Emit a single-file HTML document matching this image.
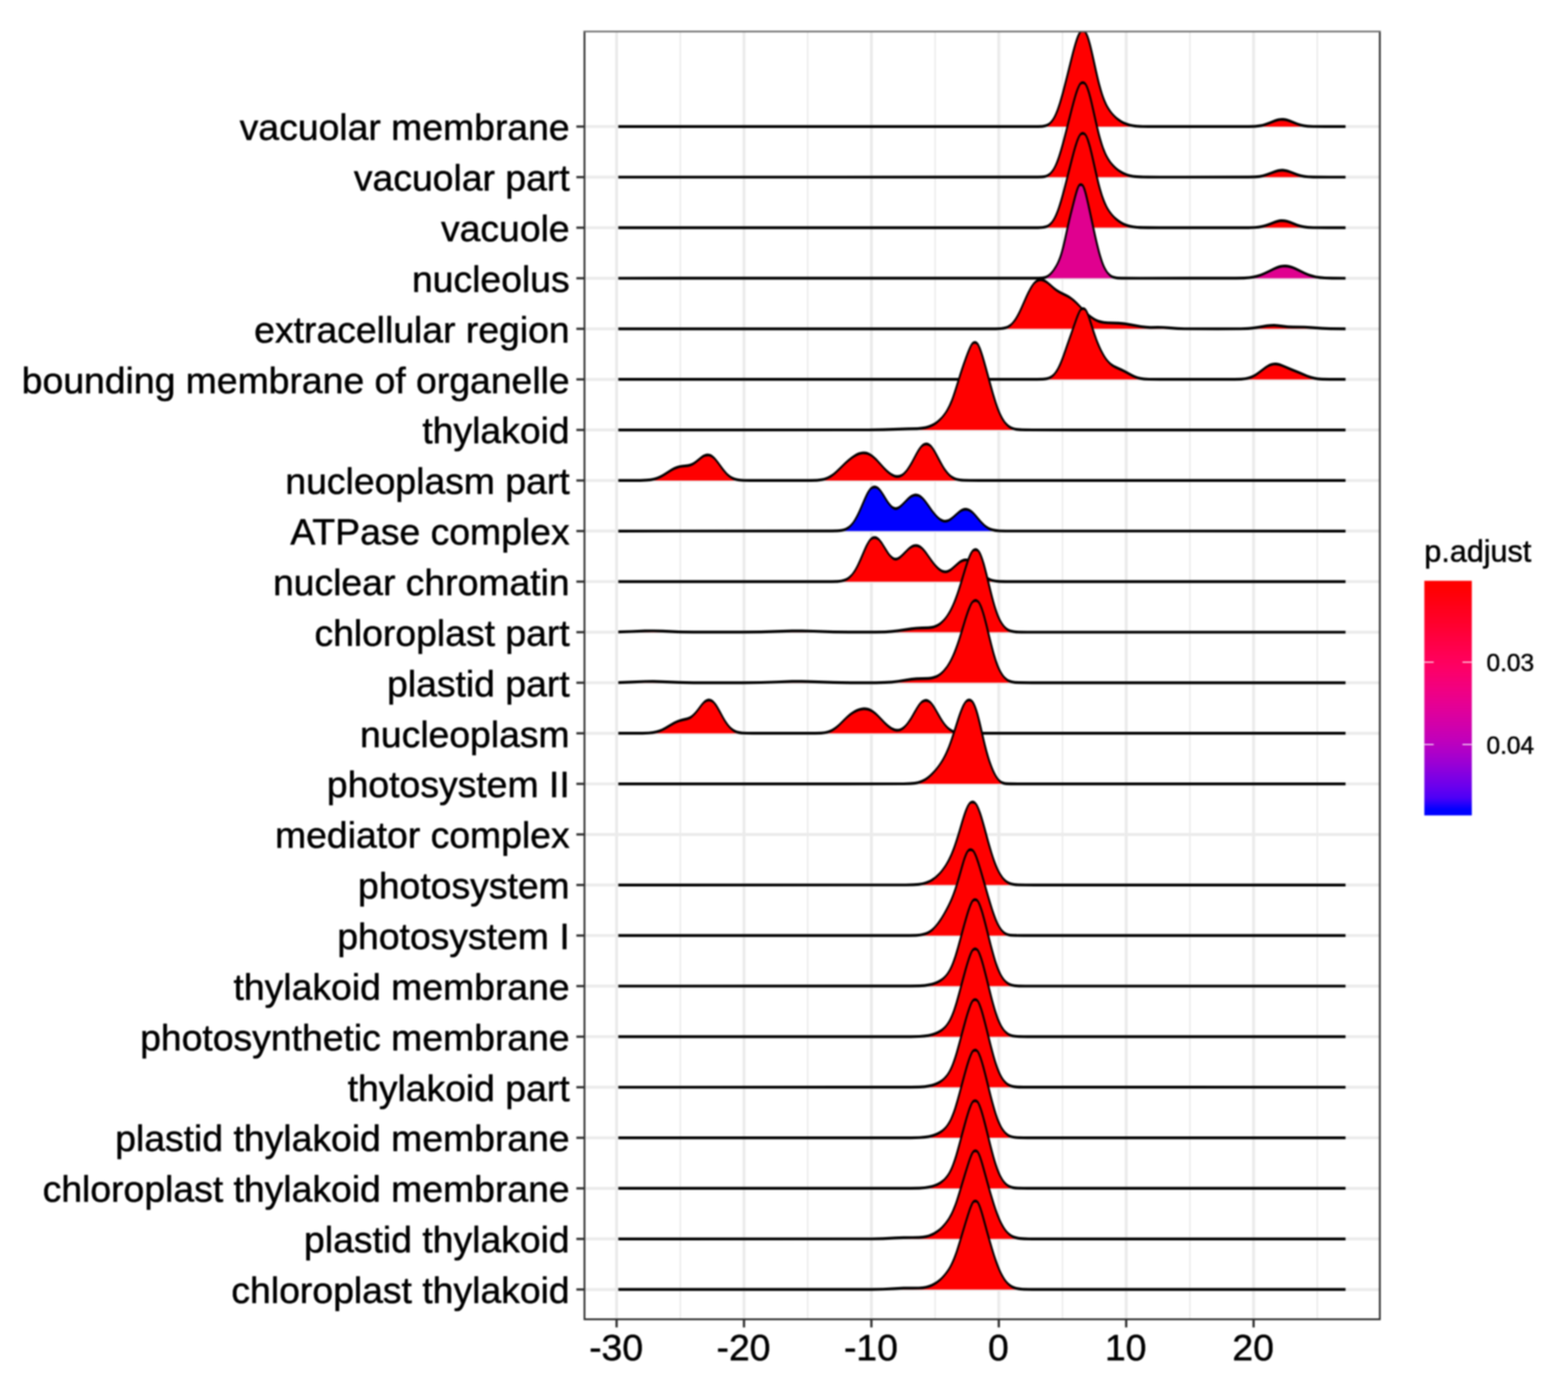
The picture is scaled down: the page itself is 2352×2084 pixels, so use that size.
<!DOCTYPE html>
<html lang="en"><head><meta charset="utf-8"><title>ridgeplot</title>
<style>html,body{margin:0;padding:0;background:#fff}svg{display:block;filter:blur(0.8px)}text{font-family:"Liberation Sans",sans-serif;fill:#000;stroke:#000;stroke-width:0.7px;stroke-linejoin:round}.yl{font-size:56px;text-anchor:end}.xl{font-size:56px;text-anchor:middle}.lt{font-size:45.8px}.ll{font-size:36.67px}</style></head><body>
<svg width="2352" height="2084" viewBox="0 0 2352 2084">
<defs><linearGradient id="g" x1="0" y1="0" x2="0" y2="1">
<stop offset="0.0250" stop-color="#FF0000"/>
<stop offset="0.0750" stop-color="#FF000E"/>
<stop offset="0.1250" stop-color="#FF001D"/>
<stop offset="0.1750" stop-color="#FF002B"/>
<stop offset="0.2250" stop-color="#FF003A"/>
<stop offset="0.2750" stop-color="#FF0049"/>
<stop offset="0.3250" stop-color="#FF0058"/>
<stop offset="0.3750" stop-color="#FD0067"/>
<stop offset="0.4250" stop-color="#F60076"/>
<stop offset="0.4750" stop-color="#EF0085"/>
<stop offset="0.5250" stop-color="#E60093"/>
<stop offset="0.5750" stop-color="#DB00A0"/>
<stop offset="0.6250" stop-color="#CF00AD"/>
<stop offset="0.6750" stop-color="#C200BA"/>
<stop offset="0.7250" stop-color="#B000C7"/>
<stop offset="0.7750" stop-color="#9C00D4"/>
<stop offset="0.8250" stop-color="#8400E1"/>
<stop offset="0.8750" stop-color="#6B00ED"/>
<stop offset="0.9250" stop-color="#4D00F7"/>
<stop offset="0.9750" stop-color="#0000FF"/>
</linearGradient><clipPath id="c"><rect x="875.65" y="46.2" width="1195.2" height="1934.3"/></clipPath></defs>
<rect width="2352" height="2084" fill="#fff"/>
<g><line x1="1020.45" x2="1020.45" y1="47.3" y2="1979.4" stroke="#EBEBEB" stroke-width="2.2"/><line x1="1211.55" x2="1211.55" y1="47.3" y2="1979.4" stroke="#EBEBEB" stroke-width="2.2"/><line x1="1402.65" x2="1402.65" y1="47.3" y2="1979.4" stroke="#EBEBEB" stroke-width="2.2"/><line x1="1593.75" x2="1593.75" y1="47.3" y2="1979.4" stroke="#EBEBEB" stroke-width="2.2"/><line x1="1784.85" x2="1784.85" y1="47.3" y2="1979.4" stroke="#EBEBEB" stroke-width="2.2"/><line x1="1975.95" x2="1975.95" y1="47.3" y2="1979.4" stroke="#EBEBEB" stroke-width="2.2"/><line x1="924.9" x2="924.9" y1="47.3" y2="1979.4" stroke="#EBEBEB" stroke-width="4.4"/><line x1="1116" x2="1116" y1="47.3" y2="1979.4" stroke="#EBEBEB" stroke-width="4.4"/><line x1="1307.1" x2="1307.1" y1="47.3" y2="1979.4" stroke="#EBEBEB" stroke-width="4.4"/><line x1="1498.2" x2="1498.2" y1="47.3" y2="1979.4" stroke="#EBEBEB" stroke-width="4.4"/><line x1="1689.3" x2="1689.3" y1="47.3" y2="1979.4" stroke="#EBEBEB" stroke-width="4.4"/><line x1="1880.4" x2="1880.4" y1="47.3" y2="1979.4" stroke="#EBEBEB" stroke-width="4.4"/><line x1="876.75" x2="2069.75" y1="189.9" y2="189.9" stroke="#EBEBEB" stroke-width="4.4"/><line x1="876.75" x2="2069.75" y1="265.76" y2="265.76" stroke="#EBEBEB" stroke-width="4.4"/><line x1="876.75" x2="2069.75" y1="341.62" y2="341.62" stroke="#EBEBEB" stroke-width="4.4"/><line x1="876.75" x2="2069.75" y1="417.48" y2="417.48" stroke="#EBEBEB" stroke-width="4.4"/><line x1="876.75" x2="2069.75" y1="493.34" y2="493.34" stroke="#EBEBEB" stroke-width="4.4"/><line x1="876.75" x2="2069.75" y1="569.2" y2="569.2" stroke="#EBEBEB" stroke-width="4.4"/><line x1="876.75" x2="2069.75" y1="645.06" y2="645.06" stroke="#EBEBEB" stroke-width="4.4"/><line x1="876.75" x2="2069.75" y1="720.92" y2="720.92" stroke="#EBEBEB" stroke-width="4.4"/><line x1="876.75" x2="2069.75" y1="796.78" y2="796.78" stroke="#EBEBEB" stroke-width="4.4"/><line x1="876.75" x2="2069.75" y1="872.64" y2="872.64" stroke="#EBEBEB" stroke-width="4.4"/><line x1="876.75" x2="2069.75" y1="948.5" y2="948.5" stroke="#EBEBEB" stroke-width="4.4"/><line x1="876.75" x2="2069.75" y1="1024.36" y2="1024.36" stroke="#EBEBEB" stroke-width="4.4"/><line x1="876.75" x2="2069.75" y1="1100.22" y2="1100.22" stroke="#EBEBEB" stroke-width="4.4"/><line x1="876.75" x2="2069.75" y1="1176.08" y2="1176.08" stroke="#EBEBEB" stroke-width="4.4"/><line x1="876.75" x2="2069.75" y1="1251.94" y2="1251.94" stroke="#EBEBEB" stroke-width="4.4"/><line x1="876.75" x2="2069.75" y1="1327.8" y2="1327.8" stroke="#EBEBEB" stroke-width="4.4"/><line x1="876.75" x2="2069.75" y1="1403.66" y2="1403.66" stroke="#EBEBEB" stroke-width="4.4"/><line x1="876.75" x2="2069.75" y1="1479.52" y2="1479.52" stroke="#EBEBEB" stroke-width="4.4"/><line x1="876.75" x2="2069.75" y1="1555.38" y2="1555.38" stroke="#EBEBEB" stroke-width="4.4"/><line x1="876.75" x2="2069.75" y1="1631.24" y2="1631.24" stroke="#EBEBEB" stroke-width="4.4"/><line x1="876.75" x2="2069.75" y1="1707.1" y2="1707.1" stroke="#EBEBEB" stroke-width="4.4"/><line x1="876.75" x2="2069.75" y1="1782.96" y2="1782.96" stroke="#EBEBEB" stroke-width="4.4"/><line x1="876.75" x2="2069.75" y1="1858.82" y2="1858.82" stroke="#EBEBEB" stroke-width="4.4"/><line x1="876.75" x2="2069.75" y1="1934.68" y2="1934.68" stroke="#EBEBEB" stroke-width="4.4"/></g>
<g clip-path="url(#c)"><path d="M927.5,189.9 L927.5,189.9 L1556.9,189.84 L1563.3,189.54 L1567.1,188.97 L1569.7,188.21 L1571.9,187.17 L1573.9,185.79 L1575.9,183.92 L1577.9,181.61 L1579.7,179.1 L1581.3,176.44 L1582.9,173.37 L1584.5,169.84 L1586.1,165.85 L1587.7,161.42 L1589.3,156.58 L1591.1,150.69 L1593.1,143.69 L1595.5,134.79 L1598.5,123.12 L1604.1,100.62 L1608.1,84.64 L1610.5,75.44 L1612.3,68.92 L1613.9,63.53 L1615.3,59.21 L1616.5,55.88 L1617.7,52.93 L1618.9,50.4 L1619.9,48.7 L1620.7,47.68 L1621.9,46.82 L1623.3,46.29 L1624.7,46.23 L1625.9,46.53 L1627.1,47.2 L1627.9,47.92 L1628.9,49.47 L1629.9,51.49 L1630.9,53.88 L1631.9,56.64 L1633.1,60.38 L1634.3,64.57 L1635.7,69.93 L1637.3,76.56 L1639.3,85.37 L1644.1,107.17 L1646.1,115.87 L1647.9,123.26 L1649.5,129.4 L1651.1,135.09 L1652.7,140.3 L1654.3,145.05 L1655.9,149.33 L1657.5,153.18 L1659.3,157.03 L1661.1,160.42 L1663.1,163.77 L1665.5,167.25 L1668.1,170.53 L1671.1,173.8 L1674.3,176.83 L1677.7,179.57 L1681.3,182.02 L1685.1,184.14 L1689.1,185.91 L1693.3,187.29 L1698.1,188.38 L1703.9,189.16 L1711.7,189.65 L1726.5,189.88 L1872.7,189.83 L1882.3,189.52 L1888.5,188.91 L1893.5,188 L1898.3,186.68 L1903.9,184.62 L1912.5,181.18 L1916.7,179.91 L1920.3,179.27 L1923.7,179.11 L1927.1,179.4 L1930.7,180.17 L1935.1,181.62 L1946.1,186 L1951.1,187.56 L1955.9,188.6 L1961.5,189.32 L1969.3,189.75 L1988.3,189.9 L2018.3,189.9 L2018.3,189.9 Z" fill="#FF0000"/>
<path d="M927.5,187.8 L1556.9,187.74 L1563.3,187.44 L1567.1,186.87 L1569.7,186.11 L1571.9,185.07 L1573.9,183.69 L1575.7,182 L1577.3,180.09 L1578.9,177.77 L1580.5,174.99 L1582.1,171.75 L1583.7,168.04 L1585.3,163.89 L1586.9,159.3 L1588.7,153.66 L1590.5,147.59 L1592.7,139.68 L1595.3,129.82 L1598.7,116.4 L1605.9,87.44 L1608.5,77.34 L1610.5,69.98 L1612.1,64.48 L1613.5,60.05 L1614.9,56.05 L1616.1,53.04 L1617.3,50.44 L1618.5,48.29 L1619.7,46.62 L1620.9,45.41 L1622.1,44.62 L1623.3,44.19 L1624.7,44.13 L1625.9,44.43 L1627.1,45.1 L1628.3,46.19 L1629.3,47.47 L1630.3,49.12 L1631.3,51.14 L1632.3,53.53 L1633.3,56.28 L1634.5,60.03 L1635.7,64.21 L1637.1,69.57 L1638.7,76.2 L1640.7,85.01 L1645.5,106.81 L1647.5,115.51 L1649.3,122.9 L1650.9,129.04 L1652.5,134.73 L1654.1,139.95 L1655.7,144.69 L1657.3,148.98 L1658.9,152.83 L1660.7,156.67 L1662.5,160.06 L1664.5,163.37 L1666.7,166.52 L1669.1,169.5 L1671.9,172.49 L1675.1,175.41 L1678.5,178.06 L1682.1,180.41 L1685.9,182.43 L1689.9,184.11 L1694.3,185.46 L1699.3,186.48 L1705.3,187.19 L1713.9,187.63 L1733.7,187.8 L1872.9,187.73 L1882.3,187.42 L1888.5,186.81 L1893.5,185.9 L1898.3,184.58 L1903.9,182.52 L1912.5,179.08 L1916.7,177.81 L1920.3,177.17 L1923.7,177.01 L1927.1,177.3 L1930.7,178.07 L1935.1,179.52 L1946.1,183.9 L1951.1,185.46 L1955.9,186.5 L1961.5,187.22 L1969.3,187.65 L1988.3,187.8 L2018.3,187.8 L2018.3,192 L1988.3,192 L1969.3,191.85 L1961.5,191.42 L1955.9,190.7 L1951.1,189.66 L1946.1,188.1 L1935.1,183.72 L1930.7,182.27 L1927.1,181.5 L1923.7,181.21 L1920.3,181.37 L1916.7,182.01 L1912.5,183.28 L1903.7,186.8 L1898.1,188.84 L1893.3,190.15 L1888.3,191.04 L1882.1,191.63 L1872.5,191.94 L1723.1,191.96 L1710.3,191.7 L1702.9,191.16 L1697.3,190.33 L1692.7,189.22 L1688.5,187.77 L1684.5,185.94 L1680.7,183.74 L1677.1,181.22 L1673.7,178.39 L1670.3,175.1 L1667.3,171.79 L1664.5,168.26 L1662.1,164.79 L1659.9,161.16 L1657.9,157.38 L1656.1,153.54 L1654.5,149.69 L1652.9,145.4 L1651.3,140.66 L1649.7,135.44 L1647.9,129.04 L1646.3,122.9 L1644.7,116.36 L1642.7,107.7 L1639.5,93.2 L1636.7,80.55 L1634.9,72.83 L1633.5,67.22 L1632.3,62.78 L1631.1,58.81 L1630.1,55.85 L1629.1,53.24 L1628.1,50.99 L1627.3,49.51 L1627.1,49.3 L1626.5,48.92 L1625.1,48.39 L1623.7,48.33 L1622.3,48.72 L1621.1,49.45 L1620.9,49.72 L1620.1,51.15 L1619.1,53.28 L1617.9,56.23 L1616.5,60.16 L1615.1,64.53 L1613.5,69.98 L1611.5,77.34 L1608.9,87.44 L1602.5,113.19 L1598.7,128.27 L1596.1,138.2 L1593.9,146.19 L1591.9,153.06 L1590.1,158.79 L1588.5,163.49 L1586.9,167.76 L1585.3,171.58 L1583.7,174.93 L1582.1,177.88 L1580.3,180.71 L1578.3,183.38 L1576.1,185.84 L1573.9,187.89 L1571.9,189.27 L1569.7,190.31 L1567.1,191.07 L1563.3,191.64 L1556.9,191.94 L927.5,192 Z" fill="#000"/>
<path d="M927.5,265.76 L927.5,265.76 L1556.9,265.7 L1563.3,265.4 L1567.1,264.85 L1569.9,264.02 L1572.1,262.96 L1574.1,261.55 L1576.1,259.66 L1578.1,257.33 L1579.9,254.8 L1581.5,252.11 L1583.1,249.03 L1584.7,245.49 L1586.3,241.5 L1587.9,237.08 L1589.7,231.62 L1591.5,225.72 L1593.5,218.73 L1595.9,209.87 L1599.1,197.52 L1607.5,164.22 L1610.1,154.29 L1612.1,147.07 L1613.7,141.7 L1615.1,137.38 L1616.5,133.5 L1617.7,130.59 L1618.9,128.1 L1619.9,126.42 L1620.5,125.62 L1621.7,124.69 L1622.9,124.15 L1624.3,123.96 L1625.7,124.22 L1626.9,124.82 L1627.9,125.66 L1628.9,127.18 L1629.9,129.18 L1630.9,131.54 L1631.9,134.25 L1633.1,137.95 L1634.3,142.08 L1635.7,147.37 L1637.3,153.91 L1639.3,162.61 L1644.1,184.12 L1646.1,192.71 L1647.9,200 L1649.5,206.05 L1651.1,211.67 L1652.7,216.82 L1654.3,221.5 L1655.9,225.72 L1657.5,229.52 L1659.3,233.31 L1661.3,237.02 L1663.3,240.28 L1665.7,243.68 L1668.3,246.87 L1671.3,250.08 L1674.5,253.04 L1677.9,255.72 L1681.5,258.11 L1685.3,260.18 L1689.3,261.9 L1693.7,263.29 L1698.5,264.33 L1704.3,265.07 L1712.3,265.54 L1728.5,265.75 L1872.9,265.69 L1882.5,265.38 L1888.7,264.79 L1893.9,263.86 L1898.9,262.5 L1905.1,260.26 L1912.7,257.38 L1916.9,256.19 L1920.5,255.6 L1923.9,255.47 L1927.5,255.81 L1931.3,256.64 L1936.1,258.23 L1946.1,262.04 L1951.1,263.53 L1956.1,264.56 L1961.9,265.24 L1970.1,265.63 L1994.1,265.76 L2018.3,265.76 L2018.3,265.76 Z" fill="#FF0000"/>
<path d="M927.5,263.66 L1556.9,263.6 L1563.3,263.3 L1567.1,262.75 L1569.9,261.92 L1572.1,260.86 L1574.1,259.45 L1575.9,257.73 L1577.5,255.8 L1579.1,253.45 L1580.7,250.66 L1582.3,247.4 L1583.9,243.69 L1585.5,239.54 L1587.1,234.96 L1588.9,229.35 L1590.9,222.62 L1593.1,214.74 L1595.7,204.94 L1599.5,190.05 L1605.9,164.65 L1608.5,154.68 L1610.5,147.42 L1612.1,141.99 L1613.5,137.62 L1614.9,133.67 L1616.1,130.69 L1617.3,128.13 L1618.5,126.01 L1619.7,124.36 L1620.9,123.16 L1622.1,122.37 L1623.3,121.95 L1624.7,121.89 L1626.1,122.28 L1627.3,123 L1628.5,124.16 L1629.5,125.5 L1630.5,127.19 L1631.5,129.26 L1632.5,131.7 L1633.5,134.48 L1634.7,138.26 L1635.9,142.45 L1637.3,147.81 L1638.9,154.41 L1641.1,164.04 L1645.5,183.77 L1647.5,192.35 L1649.3,199.64 L1650.9,205.7 L1652.5,211.31 L1654.1,216.46 L1655.7,221.14 L1657.3,225.37 L1658.9,229.16 L1660.7,232.96 L1662.5,236.3 L1664.5,239.56 L1666.7,242.67 L1669.1,245.61 L1671.9,248.56 L1675.1,251.44 L1678.7,254.19 L1682.5,256.6 L1686.3,258.55 L1690.3,260.16 L1694.7,261.45 L1699.7,262.42 L1705.9,263.1 L1714.9,263.51 L1738.5,263.66 L1873.1,263.59 L1882.7,263.27 L1888.9,262.66 L1894.1,261.72 L1899.1,260.34 L1905.5,258.01 L1912.7,255.28 L1916.9,254.09 L1920.5,253.5 L1923.9,253.37 L1927.5,253.71 L1931.3,254.54 L1936.1,256.13 L1946.1,259.94 L1951.1,261.43 L1956.1,262.46 L1961.9,263.14 L1970.1,263.53 L1994.1,263.66 L2018.3,263.66 L2018.3,267.86 L1994.1,267.86 L1970.1,267.73 L1961.9,267.34 L1956.1,266.66 L1951.1,265.63 L1946.1,264.14 L1936.1,260.33 L1931.3,258.74 L1927.5,257.91 L1923.9,257.57 L1920.5,257.7 L1916.9,258.29 L1912.7,259.48 L1905.1,262.36 L1898.9,264.6 L1893.9,265.96 L1888.7,266.89 L1882.5,267.48 L1872.7,267.8 L1722.9,267.82 L1710.1,267.55 L1702.7,267.01 L1697.1,266.17 L1692.5,265.06 L1688.3,263.61 L1684.3,261.78 L1680.5,259.59 L1676.9,257.08 L1673.5,254.26 L1670.1,250.98 L1667.1,247.67 L1664.3,244.15 L1661.9,240.68 L1659.7,237.05 L1657.9,233.67 L1656.1,229.87 L1654.5,226.08 L1652.9,221.85 L1651.3,217.17 L1649.7,212.02 L1648.1,206.43 L1646.5,200.42 L1644.9,194.01 L1642.9,185.52 L1640.3,173.95 L1636.9,158.72 L1635.1,151.05 L1633.7,145.46 L1632.5,141.02 L1631.3,137.02 L1630.1,133.48 L1629.1,130.9 L1628.1,128.69 L1627.3,127.23 L1626.5,126.67 L1625.3,126.2 L1623.9,126.07 L1622.5,126.39 L1621.3,127.05 L1620.9,127.44 L1620.1,128.84 L1619.1,130.95 L1617.9,133.86 L1616.5,137.74 L1615.1,142.05 L1613.5,147.43 L1611.7,153.94 L1609.1,163.87 L1603.5,186.08 L1599.3,202.62 L1596.5,213.26 L1594.1,221.93 L1592.1,228.75 L1590.3,234.46 L1588.7,239.14 L1587.1,243.4 L1585.5,247.23 L1583.9,250.6 L1582.3,253.56 L1580.5,256.41 L1578.5,259.09 L1576.3,261.57 L1574.1,263.65 L1572.1,265.06 L1569.9,266.12 L1567.1,266.95 L1563.3,267.5 L1556.9,267.8 L927.5,267.86 Z" fill="#000"/>
<path d="M927.5,341.62 L927.5,341.62 L1556.9,341.56 L1563.3,341.26 L1567.1,340.71 L1569.9,339.88 L1572.1,338.82 L1574.1,337.42 L1576.1,335.53 L1578.1,333.21 L1579.9,330.68 L1581.5,328 L1583.1,324.93 L1584.7,321.4 L1586.3,317.41 L1587.9,313 L1589.7,307.55 L1591.5,301.67 L1593.5,294.69 L1595.9,285.84 L1599.1,273.52 L1607.5,240.3 L1610.1,230.39 L1612.1,223.18 L1613.7,217.82 L1615.1,213.51 L1616.5,209.64 L1617.7,206.74 L1618.9,204.25 L1619.9,202.57 L1620.5,201.78 L1621.7,200.85 L1622.9,200.31 L1624.3,200.12 L1625.7,200.38 L1626.9,200.97 L1627.9,201.81 L1628.9,203.34 L1629.9,205.32 L1630.9,207.68 L1631.9,210.39 L1633.1,214.08 L1634.3,218.2 L1635.7,223.48 L1637.3,230.01 L1639.3,238.69 L1644.1,260.15 L1646.1,268.72 L1647.9,276 L1649.5,282.04 L1651.1,287.64 L1652.7,292.78 L1654.3,297.45 L1655.9,301.67 L1657.5,305.45 L1659.3,309.24 L1661.3,312.94 L1663.3,316.19 L1665.7,319.58 L1668.3,322.77 L1671.3,325.97 L1674.5,328.93 L1677.9,331.6 L1681.5,333.99 L1685.3,336.05 L1689.3,337.77 L1693.7,339.16 L1698.5,340.19 L1704.3,340.93 L1712.3,341.4 L1728.5,341.61 L1872.9,341.55 L1882.5,341.23 L1888.7,340.62 L1893.7,339.71 L1898.5,338.4 L1904.3,336.28 L1912.5,333.06 L1916.7,331.82 L1920.3,331.18 L1923.7,331.03 L1927.1,331.31 L1930.9,332.13 L1935.5,333.64 L1946.1,337.79 L1951.1,339.32 L1956.1,340.38 L1961.9,341.08 L1969.9,341.48 L1991.9,341.62 L2018.3,341.62 L2018.3,341.62 Z" fill="#FF0000"/>
<path d="M927.5,339.52 L1556.9,339.46 L1563.3,339.16 L1567.1,338.61 L1569.9,337.78 L1572.1,336.72 L1574.1,335.32 L1575.9,333.61 L1577.5,331.68 L1579.1,329.34 L1580.7,326.55 L1582.3,323.3 L1583.9,319.6 L1585.5,315.45 L1587.1,310.88 L1588.9,305.28 L1590.9,298.57 L1593.1,290.7 L1595.7,280.92 L1599.5,266.07 L1605.9,240.72 L1608.5,230.78 L1610.5,223.53 L1612.1,218.11 L1613.5,213.75 L1614.9,209.81 L1616.1,206.84 L1617.3,204.28 L1618.5,202.16 L1619.7,200.51 L1620.9,199.32 L1622.1,198.53 L1623.3,198.11 L1624.7,198.05 L1626.1,198.43 L1627.3,199.16 L1628.5,200.32 L1629.5,201.65 L1630.5,203.35 L1631.5,205.41 L1632.5,207.84 L1633.5,210.62 L1634.7,214.39 L1635.9,218.57 L1637.3,223.92 L1638.9,230.5 L1641.1,240.11 L1645.5,259.8 L1647.5,268.37 L1649.3,275.64 L1650.9,281.68 L1652.5,287.29 L1654.1,292.42 L1655.7,297.09 L1657.3,301.31 L1658.9,305.1 L1660.7,308.89 L1662.5,312.23 L1664.5,315.47 L1666.7,318.58 L1669.1,321.51 L1671.9,324.45 L1675.1,327.33 L1678.7,330.07 L1682.5,332.47 L1686.3,334.42 L1690.3,336.02 L1694.7,337.31 L1699.7,338.28 L1705.9,338.96 L1714.9,339.37 L1738.5,339.52 L1873.1,339.45 L1882.5,339.13 L1888.7,338.52 L1893.7,337.61 L1898.5,336.3 L1904.3,334.18 L1912.5,330.96 L1916.7,329.72 L1920.3,329.08 L1923.7,328.93 L1927.1,329.21 L1930.9,330.03 L1935.5,331.54 L1946.1,335.69 L1951.1,337.22 L1956.1,338.28 L1961.9,338.98 L1969.9,339.38 L1991.9,339.52 L2018.3,339.52 L2018.3,343.72 L1991.9,343.72 L1969.9,343.58 L1961.9,343.18 L1956.1,342.48 L1951.1,341.42 L1946.1,339.89 L1935.5,335.74 L1930.9,334.23 L1927.1,333.41 L1923.7,333.13 L1920.3,333.28 L1916.7,333.92 L1912.5,335.16 L1904.3,338.38 L1898.5,340.5 L1893.7,341.81 L1888.5,342.75 L1882.3,343.34 L1872.5,343.66 L1722.9,343.68 L1710.1,343.41 L1702.7,342.87 L1697.1,342.03 L1692.5,340.93 L1688.3,339.48 L1684.3,337.65 L1680.5,335.47 L1676.9,332.96 L1673.5,330.15 L1670.1,326.87 L1667.1,323.57 L1664.3,320.05 L1661.9,316.6 L1659.7,312.97 L1657.9,309.6 L1656.1,305.81 L1654.5,302.02 L1652.9,297.8 L1651.3,293.13 L1649.7,288 L1648.1,282.41 L1646.5,276.42 L1644.9,270.02 L1642.9,261.55 L1640.3,250 L1636.9,234.81 L1635.1,227.15 L1633.7,221.57 L1632.5,217.14 L1631.3,213.16 L1630.1,209.62 L1629.1,207.05 L1628.1,204.84 L1627.3,203.39 L1626.5,202.83 L1625.3,202.36 L1623.9,202.23 L1622.5,202.55 L1621.3,203.21 L1620.9,203.59 L1620.1,204.99 L1619.1,207.09 L1617.9,210 L1616.5,213.87 L1615.1,218.17 L1613.5,223.54 L1611.7,230.03 L1609.1,239.94 L1603.5,262.11 L1599.3,278.61 L1596.5,289.23 L1594.1,297.88 L1592.1,304.69 L1590.3,310.39 L1588.7,315.06 L1587.1,319.31 L1585.5,323.13 L1583.9,326.49 L1582.3,329.44 L1580.5,332.29 L1578.5,334.97 L1576.3,337.45 L1574.1,339.52 L1572.1,340.92 L1569.9,341.98 L1567.1,342.81 L1563.3,343.36 L1556.9,343.66 L927.5,343.72 Z" fill="#000"/>
<path d="M927.5,417.48 L927.5,417.48 L1557.1,417.42 L1562.7,417.13 L1566.1,416.6 L1568.7,415.82 L1570.9,414.77 L1573.1,413.27 L1575.3,411.31 L1577.7,408.73 L1580.1,405.7 L1582.5,402.21 L1584.5,398.89 L1586.3,395.54 L1587.9,392.14 L1589.3,388.76 L1590.5,385.5 L1591.7,381.87 L1592.9,377.84 L1594.1,373.42 L1595.5,367.8 L1597.1,360.87 L1599.9,348.05 L1602.3,337.11 L1604.3,328.43 L1606.5,319.38 L1610.5,303.64 L1612.9,294.48 L1614.3,289.46 L1615.5,285.55 L1616.5,282.68 L1617.5,280.26 L1618.3,278.7 L1618.7,278.09 L1619.7,277.39 L1620.9,277.01 L1622.1,277.06 L1623.1,277.42 L1623.9,277.97 L1624.5,278.84 L1625.3,280.48 L1626.1,282.47 L1627.1,285.4 L1628.1,288.76 L1629.3,293.28 L1630.7,299.04 L1632.5,306.96 L1635.7,321.69 L1640.9,345.81 L1643.5,357.5 L1645.5,366.1 L1647.3,373.41 L1648.9,379.48 L1650.3,384.41 L1651.7,388.95 L1653.1,393.08 L1654.5,396.78 L1655.9,400.06 L1657.3,402.93 L1658.9,405.76 L1660.5,408.14 L1662.3,410.38 L1664.3,412.43 L1666.1,413.88 L1668.1,415.06 L1670.5,416 L1673.7,416.74 L1678.3,417.23 L1687.3,417.46 L1853.5,417.41 L1865.9,417.1 L1873.7,416.52 L1879.9,415.64 L1885.3,414.43 L1890.5,412.81 L1895.9,410.64 L1903.1,407.18 L1911.3,403.14 L1916.1,401.18 L1920.1,399.97 L1923.9,399.28 L1927.5,399.08 L1931.1,399.33 L1934.9,400.07 L1938.9,401.33 L1943.7,403.33 L1957.9,410.29 L1963.3,412.52 L1968.5,414.22 L1973.9,415.49 L1979.9,416.41 L1987.5,417.04 L1999.1,417.39 L2018.3,417.48 L2018.3,417.48 Z" fill="#E0008F"/>
<path d="M927.5,415.38 L1557.1,415.32 L1562.7,415.03 L1566.1,414.5 L1568.7,413.72 L1570.9,412.67 L1573.1,411.17 L1575.1,409.4 L1577.3,407 L1579.5,404.15 L1581.7,400.87 L1583.7,397.46 L1585.5,393.96 L1586.9,390.86 L1588.3,387.36 L1589.5,383.98 L1590.7,380.22 L1591.9,376.06 L1593.1,371.51 L1594.5,365.75 L1596.1,358.72 L1600.7,337.65 L1602.7,328.92 L1604.7,320.64 L1608.1,307.18 L1611.1,295.61 L1612.7,289.8 L1613.9,285.82 L1614.9,282.87 L1615.9,280.35 L1616.7,278.69 L1617.5,277.37 L1618.3,276.36 L1619.3,275.52 L1620.3,275.04 L1621.5,274.89 L1622.7,275.14 L1623.7,275.71 L1624.7,276.67 L1625.5,277.8 L1626.3,279.27 L1627.1,281.08 L1628.1,283.81 L1629.1,287.01 L1630.1,290.61 L1631.3,295.34 L1632.9,302.15 L1635.1,312.07 L1642.3,345.45 L1644.9,357.14 L1646.9,365.74 L1648.7,373.06 L1650.3,379.13 L1651.7,384.06 L1653.1,388.6 L1654.5,392.72 L1655.9,396.43 L1657.3,399.71 L1658.7,402.57 L1660.1,405.04 L1661.7,407.41 L1663.3,409.33 L1665.1,411.03 L1667.1,412.42 L1669.3,413.48 L1672.1,414.33 L1675.9,414.93 L1682.1,415.28 L1710.5,415.38 L1853.9,415.31 L1866.1,414.99 L1873.9,414.4 L1880.1,413.5 L1885.5,412.28 L1890.7,410.64 L1896.1,408.45 L1903.5,404.88 L1911.5,400.95 L1916.1,399.08 L1920.1,397.87 L1923.9,397.18 L1927.5,396.98 L1931.1,397.23 L1934.9,397.97 L1938.9,399.23 L1943.7,401.23 L1957.9,408.19 L1963.3,410.42 L1968.5,412.12 L1973.9,413.39 L1979.9,414.31 L1987.5,414.94 L1999.1,415.29 L2018.3,415.38 L2018.3,419.58 L1998.3,419.48 L1987.1,419.12 L1979.7,418.49 L1973.7,417.55 L1968.3,416.26 L1963.1,414.55 L1957.7,412.29 L1944.3,405.71 L1939.3,403.57 L1935.1,402.23 L1931.3,401.46 L1927.7,401.18 L1924.1,401.36 L1920.3,402.03 L1916.3,403.21 L1911.7,405.06 L1904.1,408.77 L1896.3,412.57 L1890.9,414.77 L1885.7,416.43 L1880.3,417.67 L1874.1,418.58 L1866.3,419.18 L1854.1,419.51 L1719.1,419.58 L1682.5,419.49 L1676.1,419.15 L1672.3,418.58 L1669.5,417.76 L1667.3,416.74 L1665.3,415.39 L1663.1,413.37 L1660.9,410.94 L1658.9,408.3 L1657.3,405.81 L1655.9,403.28 L1654.5,400.42 L1653.1,397.14 L1651.7,393.43 L1650.3,389.31 L1648.9,384.77 L1647.3,379.13 L1645.7,373.06 L1643.9,365.74 L1641.9,357.14 L1639.3,345.45 L1634.1,321.33 L1630.9,306.6 L1629.1,298.68 L1627.7,292.92 L1626.5,288.41 L1625.5,285.13 L1624.5,282.3 L1623.7,280.4 L1623.3,279.64 L1623.1,279.52 L1622.1,279.16 L1620.9,279.11 L1619.7,279.49 L1619.3,279.79 L1618.7,281.06 L1617.7,283.58 L1616.7,286.52 L1615.5,290.51 L1613.9,296.37 L1610.7,308.75 L1607.5,321.45 L1605.5,329.77 L1603.5,338.55 L1599.7,355.99 L1597.9,364.03 L1596.5,369.91 L1595.3,374.58 L1593.9,379.59 L1592.7,383.48 L1591.5,386.99 L1590.1,390.62 L1588.7,393.82 L1587.1,397.06 L1585.3,400.32 L1583.1,403.84 L1580.7,407.24 L1578.1,410.46 L1575.5,413.22 L1573.1,415.37 L1570.9,416.87 L1568.7,417.92 L1566.1,418.7 L1562.7,419.23 L1557.1,419.52 L927.5,419.58 Z" fill="#000"/>
<path d="M927.5,493.34 L927.5,493.34 L1493.5,493.28 L1501.1,492.98 L1505.5,492.45 L1508.7,491.69 L1511.5,490.6 L1513.9,489.22 L1516.1,487.53 L1518.5,485.18 L1520.7,482.61 L1522.9,479.59 L1524.9,476.45 L1527.3,472.17 L1529.7,467.41 L1532.7,460.95 L1539.9,444.7 L1542.7,438.78 L1545.1,434.12 L1547.1,430.65 L1549.1,427.59 L1550.9,425.24 L1552.5,423.56 L1554.5,421.97 L1556.5,420.81 L1558.5,420.09 L1560.7,419.76 L1562.9,419.9 L1565.1,420.48 L1567.5,421.57 L1570.1,423.24 L1573.3,425.8 L1581.1,432.68 L1584.7,435.44 L1588.3,437.71 L1592.9,440.07 L1600.1,443.53 L1604.1,445.84 L1607.9,448.48 L1611.7,451.61 L1615.7,455.36 L1622.9,462.82 L1628.9,468.96 L1633.3,473.04 L1636.9,475.95 L1640.5,478.4 L1643.9,480.27 L1647.5,481.79 L1651.3,482.93 L1655.7,483.76 L1661.3,484.29 L1678.1,484.95 L1686.1,485.71 L1695.3,487.1 L1711.7,489.99 L1719.1,490.89 L1725.9,491.28 L1736.5,491.19 L1744.9,491.23 L1753.3,491.79 L1766.1,492.88 L1776.5,493.25 L1825.9,493.34 L1861.7,493.23 L1872.1,492.85 L1879.9,492.15 L1888.3,490.88 L1899.9,488.89 L1905.7,488.29 L1911.1,488.19 L1917.1,488.57 L1931.9,490.28 L1939.1,490.66 L1956.7,490.75 L1965.9,491.28 L1983.5,492.72 L1995.3,493.19 L2018.3,493.34 L2018.3,493.34 Z" fill="#FF0000"/>
<path d="M927.5,491.24 L1493.5,491.18 L1501.1,490.88 L1505.5,490.35 L1508.7,489.59 L1511.5,488.5 L1513.9,487.12 L1516.1,485.43 L1518.1,483.47 L1520.1,481.09 L1522.1,478.28 L1524.1,475.05 L1526.3,471.05 L1528.7,466.23 L1531.9,459.25 L1538.3,444.79 L1541.1,438.83 L1543.5,434.14 L1545.7,430.26 L1547.7,427.15 L1549.7,424.47 L1551.7,422.23 L1553.7,420.45 L1555.7,419.12 L1557.7,418.23 L1559.7,417.75 L1561.9,417.68 L1564.1,418.06 L1566.3,418.87 L1568.7,420.19 L1571.5,422.21 L1575.7,425.82 L1581.1,430.58 L1584.7,433.34 L1588.3,435.61 L1592.9,437.97 L1600.1,441.43 L1604.1,443.74 L1607.9,446.38 L1611.7,449.51 L1615.9,453.45 L1622.9,460.69 L1629.1,467.05 L1633.3,470.94 L1636.9,473.85 L1640.5,476.3 L1643.9,478.17 L1647.5,479.69 L1651.3,480.83 L1655.7,481.66 L1661.3,482.19 L1678.1,482.85 L1686.1,483.61 L1695.3,485 L1711.7,487.89 L1719.1,488.79 L1725.9,489.18 L1736.5,489.09 L1744.9,489.13 L1753.3,489.69 L1766.1,490.78 L1776.5,491.15 L1825.9,491.24 L1861.7,491.13 L1872.1,490.75 L1879.9,490.05 L1888.3,488.78 L1899.9,486.79 L1905.7,486.19 L1911.1,486.09 L1917.1,486.47 L1931.9,488.18 L1939.1,488.56 L1956.7,488.65 L1965.9,489.18 L1983.5,490.62 L1995.3,491.09 L2018.3,491.24 L2018.3,495.44 L1995.3,495.29 L1983.5,494.82 L1965.9,493.38 L1956.7,492.85 L1939.1,492.76 L1931.9,492.38 L1917.1,490.67 L1911.1,490.29 L1905.7,490.39 L1899.9,490.99 L1888.3,492.98 L1879.9,494.25 L1872.1,494.95 L1861.7,495.33 L1825.9,495.44 L1776.5,495.35 L1766.1,494.98 L1753.3,493.89 L1744.9,493.33 L1736.5,493.29 L1725.9,493.38 L1719.1,492.99 L1711.7,492.09 L1695.7,489.27 L1686.3,487.83 L1678.3,487.06 L1660.5,486.34 L1655.1,485.77 L1650.7,484.88 L1646.9,483.67 L1643.3,482.07 L1639.9,480.12 L1636.3,477.59 L1632.5,474.43 L1627.9,470.08 L1615.7,457.47 L1611.7,453.71 L1607.9,450.58 L1604.1,447.94 L1600.1,445.63 L1592.9,442.17 L1588.3,439.81 L1584.7,437.54 L1581.1,434.78 L1574.9,429.3 L1571.1,426.09 L1568.3,424.14 L1565.9,422.89 L1563.7,422.16 L1561.5,421.86 L1559.3,422.01 L1557.3,422.57 L1555.3,423.55 L1553.3,424.97 L1551.9,426.28 L1550.3,428.31 L1548.5,431.04 L1546.5,434.5 L1544.3,438.73 L1541.5,444.62 L1533.3,463.07 L1530.5,469 L1527.9,474.02 L1525.7,477.82 L1523.5,481.19 L1521.1,484.37 L1518.7,487.1 L1516.1,489.63 L1513.9,491.32 L1511.5,492.7 L1508.7,493.79 L1505.5,494.55 L1501.1,495.08 L1493.5,495.38 L927.5,495.44 Z" fill="#000"/>
<path d="M927.5,569.2 L927.5,569.2 L1555.9,569.14 L1564.3,568.86 L1568.9,568.35 L1572.1,567.63 L1574.7,566.66 L1576.9,565.43 L1578.9,563.9 L1581.1,561.73 L1583.1,559.34 L1585.1,556.47 L1586.9,553.43 L1588.7,549.96 L1590.5,546.04 L1592.5,541.22 L1594.7,535.43 L1597.7,527 L1606.1,502.76 L1614.1,479.99 L1616.1,474.63 L1617.7,470.74 L1619.1,467.76 L1620.1,465.97 L1621.1,464.57 L1622.3,463.66 L1623.5,463.14 L1624.9,462.99 L1626.1,463.21 L1627.3,463.8 L1628.3,464.64 L1629.3,466.16 L1630.3,468.11 L1631.5,470.87 L1632.9,474.57 L1634.5,479.26 L1637.7,489.37 L1640.5,498.14 L1642.7,504.61 L1644.7,510.08 L1646.9,515.62 L1649.1,520.71 L1651.3,525.37 L1653.5,529.61 L1655.9,533.8 L1658.1,537.19 L1660.3,540.18 L1662.7,543 L1665.3,545.59 L1667.7,547.55 L1670.5,549.37 L1674.5,551.39 L1683.5,555.47 L1690.1,558.97 L1697.9,563.22 L1702.5,565.3 L1706.7,566.76 L1711.1,567.82 L1716.3,568.56 L1723.5,569.02 L1739.1,569.19 L1852.1,569.13 L1861.5,568.81 L1867.3,568.23 L1871.9,567.35 L1875.9,566.15 L1879.5,564.62 L1883.1,562.64 L1887.1,559.97 L1897.7,551.88 L1901.3,549.52 L1904.3,547.97 L1907.3,546.86 L1910.1,546.26 L1913.1,546.09 L1916.1,546.38 L1919.5,547.17 L1923.9,548.73 L1937.7,554.56 L1949.5,559.36 L1960.9,564.25 L1966.3,566.16 L1971.3,567.45 L1976.5,568.32 L1983.1,568.88 L1993.9,569.16 L2018.3,569.2 L2018.3,569.2 Z" fill="#FF0000"/>
<path d="M927.5,567.1 L1555.9,567.04 L1564.3,566.76 L1568.9,566.25 L1572.1,565.53 L1574.7,564.56 L1576.9,563.33 L1578.9,561.8 L1580.7,560.02 L1582.5,557.8 L1584.3,555.12 L1586.1,551.97 L1587.9,548.35 L1589.7,544.29 L1591.7,539.33 L1594.1,532.88 L1597.7,522.6 L1604.7,502.4 L1612.7,479.64 L1614.7,474.28 L1616.3,470.38 L1617.7,467.4 L1618.9,465.26 L1620.1,463.54 L1621.3,462.28 L1622.5,461.44 L1623.9,460.95 L1625.3,460.92 L1626.5,461.27 L1627.7,461.99 L1628.9,463.14 L1629.9,464.48 L1630.9,466.16 L1632.1,468.63 L1633.3,471.52 L1634.7,475.35 L1636.5,480.76 L1641.5,496.56 L1643.7,503.11 L1645.7,508.66 L1647.9,514.29 L1650.1,519.46 L1652.3,524.2 L1654.5,528.52 L1656.7,532.42 L1658.9,535.89 L1661.1,538.92 L1663.3,541.51 L1665.5,543.67 L1667.9,545.6 L1670.9,547.49 L1675.1,549.56 L1683.5,553.37 L1690.1,556.87 L1697.9,561.12 L1702.5,563.2 L1706.7,564.66 L1711.1,565.72 L1716.3,566.46 L1723.5,566.92 L1739.1,567.09 L1852.1,567.03 L1861.5,566.71 L1867.3,566.13 L1871.9,565.25 L1875.9,564.05 L1879.5,562.52 L1883.1,560.54 L1887.1,557.87 L1897.7,549.78 L1901.3,547.42 L1904.3,545.87 L1907.3,544.76 L1910.1,544.16 L1913.1,543.99 L1916.1,544.28 L1919.5,545.07 L1923.9,546.63 L1937.7,552.46 L1949.5,557.26 L1960.9,562.15 L1966.3,564.06 L1971.3,565.35 L1976.5,566.22 L1983.1,566.78 L1993.9,567.06 L2018.3,567.1 L2018.3,571.3 L1993.9,571.26 L1983.1,570.98 L1976.5,570.42 L1971.3,569.55 L1966.3,568.26 L1960.9,566.35 L1949.5,561.46 L1937.7,556.66 L1923.9,550.83 L1919.5,549.27 L1916.1,548.48 L1913.1,548.19 L1910.1,548.36 L1907.3,548.96 L1904.3,550.07 L1901.3,551.62 L1897.7,553.98 L1887.1,562.07 L1883.1,564.74 L1879.5,566.72 L1875.9,568.25 L1871.9,569.45 L1867.3,570.33 L1861.5,570.91 L1852.1,571.23 L1739.7,571.29 L1723.7,571.12 L1716.5,570.68 L1711.3,569.96 L1706.9,568.92 L1702.7,567.48 L1698.1,565.42 L1690.9,561.52 L1683.9,557.76 L1672.7,552.64 L1669.3,550.74 L1666.7,548.89 L1664.1,546.56 L1661.3,543.61 L1658.7,540.41 L1656.3,537.02 L1654.1,533.52 L1651.9,529.61 L1649.5,524.91 L1647.3,520.17 L1645.1,515 L1642.9,509.37 L1640.9,503.82 L1638.7,497.27 L1635.5,487.17 L1632.9,479.01 L1631.3,474.37 L1629.9,470.74 L1628.7,468.05 L1627.7,466.22 L1627.3,465.9 L1626.1,465.31 L1624.9,465.09 L1623.5,465.24 L1622.3,465.76 L1621.5,466.37 L1620.5,468.11 L1619.1,471.09 L1617.5,474.99 L1615.5,480.35 L1607.9,501.97 L1601.1,521.57 L1597.1,533.03 L1594.7,539.52 L1592.7,544.52 L1590.9,548.63 L1589.1,552.3 L1587.3,555.56 L1585.5,558.4 L1583.5,561.11 L1581.3,563.66 L1578.9,566 L1576.9,567.53 L1574.7,568.76 L1572.1,569.73 L1568.9,570.45 L1564.3,570.96 L1555.9,571.24 L927.5,571.3 Z" fill="#000"/>
<path d="M927.5,645.06 L927.5,645.06 L1302.5,644.99 L1325.1,644.64 L1362.1,643.46 L1376.1,643.03 L1382.9,642.44 L1388.1,641.57 L1392.5,640.4 L1396.3,638.97 L1399.9,637.18 L1403.3,635.06 L1406.5,632.63 L1409.7,629.74 L1412.7,626.62 L1415.5,623.28 L1417.9,620.03 L1420.1,616.66 L1422.3,612.82 L1424.1,609.3 L1425.9,605.38 L1427.7,601.03 L1429.5,596.25 L1431.5,590.49 L1433.9,583.06 L1440.3,562.37 L1443.1,553.75 L1445.9,545.58 L1449.5,535.59 L1452.3,528.17 L1454.3,523.27 L1455.9,519.76 L1457.1,517.5 L1458.1,515.96 L1458.7,515.26 L1459.9,514.39 L1461.1,513.89 L1462.5,513.74 L1463.9,514.03 L1465.1,514.66 L1465.9,515.31 L1466.7,516.41 L1467.7,518.18 L1468.9,520.75 L1470.1,523.72 L1471.5,527.62 L1473.1,532.52 L1475.1,539.12 L1477.7,548.22 L1481.7,562.8 L1486.9,581.9 L1489.5,591.09 L1491.7,598.47 L1493.7,604.76 L1495.5,610.01 L1497.3,614.85 L1499.1,619.23 L1500.9,623.16 L1502.7,626.64 L1504.5,629.71 L1506.5,632.65 L1508.7,635.39 L1510.9,637.69 L1513.1,639.59 L1515.5,641.17 L1518.1,642.42 L1521.3,643.46 L1525.3,644.23 L1530.9,644.75 L1541.1,645.02 L2018.3,645.06 L2018.3,645.06 Z" fill="#FF0000"/>
<path d="M927.5,642.96 L1302.5,642.89 L1325.1,642.54 L1362.1,641.36 L1376.1,640.93 L1382.9,640.34 L1388.1,639.47 L1392.5,638.3 L1396.3,636.87 L1399.9,635.08 L1403.3,632.96 L1406.5,630.53 L1409.5,627.83 L1412.3,624.9 L1414.9,621.77 L1417.3,618.44 L1419.5,614.95 L1421.5,611.34 L1423.3,607.69 L1425.1,603.62 L1426.9,599.13 L1428.7,594.21 L1430.7,588.32 L1433.3,580.14 L1438.7,562.65 L1441.5,553.99 L1444.3,545.8 L1447.9,535.77 L1450.9,527.82 L1452.9,522.91 L1454.5,519.41 L1455.9,516.79 L1457.1,514.96 L1458.3,513.54 L1459.5,512.53 L1460.7,511.92 L1462.1,511.64 L1463.5,511.8 L1464.7,512.31 L1465.9,513.21 L1467.1,514.55 L1468.3,516.35 L1469.5,518.63 L1470.7,521.35 L1472.1,524.99 L1473.5,529.05 L1475.3,534.75 L1477.5,542.21 L1480.5,552.91 L1488.3,581.55 L1490.9,590.74 L1493.1,598.12 L1495.1,604.4 L1496.9,609.66 L1498.7,614.49 L1500.5,618.88 L1502.3,622.81 L1504.1,626.28 L1505.9,629.31 L1507.7,631.92 L1509.7,634.35 L1511.7,636.34 L1513.9,638.07 L1516.3,639.5 L1519.1,640.7 L1522.5,641.64 L1526.9,642.33 L1533.5,642.77 L1548.7,642.95 L2018.3,642.96 L2018.3,647.16 L1610.7,647.16 L1538.1,647.08 L1529.5,646.76 L1524.3,646.18 L1520.5,645.34 L1517.5,644.27 L1514.9,642.92 L1512.7,641.38 L1510.5,639.41 L1507.9,636.66 L1505.5,633.65 L1503.5,630.74 L1501.5,627.38 L1499.5,623.52 L1497.7,619.59 L1495.9,615.2 L1494.1,610.37 L1492.3,605.11 L1490.3,598.83 L1488.1,591.45 L1485.3,581.55 L1477.7,553.64 L1474.7,542.92 L1472.5,535.46 L1470.7,529.76 L1469.3,525.7 L1467.9,522.05 L1466.7,519.34 L1465.7,517.45 L1465.3,516.91 L1464.7,516.51 L1463.5,516 L1462.1,515.84 L1460.7,516.12 L1459.5,516.73 L1458.9,517.25 L1458.5,517.89 L1457.3,520.12 L1455.9,523.16 L1454.1,527.51 L1451.5,534.32 L1447.9,544.24 L1444.9,552.91 L1442.1,561.47 L1438.5,573.05 L1434.7,585.31 L1432.5,592.03 L1430.5,597.7 L1428.7,602.39 L1426.9,606.64 L1425.1,610.48 L1423.1,614.3 L1420.9,618.02 L1418.5,621.61 L1415.9,625.05 L1412.9,628.56 L1409.7,631.85 L1406.5,634.73 L1403.3,637.16 L1399.9,639.28 L1396.3,641.07 L1392.5,642.5 L1388.1,643.67 L1382.9,644.54 L1376.1,645.13 L1362.1,645.56 L1325.1,646.74 L1302.5,647.09 L927.5,647.16 Z" fill="#000"/>
<path d="M927.5,720.92 L927.5,720.92 L960.5,720.81 L969.7,720.44 L975.7,719.81 L980.7,718.85 L985.1,717.56 L989.3,715.86 L993.7,713.59 L999.3,710.15 L1007.1,705.18 L1011.3,702.9 L1015.1,701.3 L1018.7,700.23 L1022.9,699.48 L1031.7,698.56 L1034.9,697.85 L1037.7,696.8 L1040.5,695.3 L1043.7,693.07 L1051.7,686.6 L1054.5,684.72 L1056.9,683.52 L1059.1,682.83 L1061.3,682.57 L1063.5,682.77 L1065.7,683.43 L1067.7,684.46 L1069.9,686.04 L1071.9,687.9 L1074.3,690.65 L1077.7,695.13 L1083.7,703.36 L1086.9,707.37 L1089.9,710.69 L1092.7,713.35 L1095.3,715.38 L1098.1,717.08 L1101.1,718.42 L1104.5,719.44 L1108.7,720.19 L1114.5,720.67 L1125.9,720.9 L1216.5,720.85 L1225.7,720.53 L1231.3,719.95 L1235.7,719.08 L1239.5,717.9 L1242.9,716.4 L1246.3,714.44 L1249.7,712.03 L1253.5,708.85 L1258.7,703.94 L1267.9,694.9 L1272.7,690.61 L1277.1,687.12 L1281.1,684.39 L1284.7,682.36 L1288.1,680.88 L1291.3,679.93 L1294.3,679.5 L1297.1,679.54 L1299.9,680.01 L1302.7,680.95 L1305.5,682.36 L1308.3,684.22 L1311.3,686.67 L1314.5,689.73 L1319.3,694.9 L1326.1,702.38 L1330.1,706.38 L1333.5,709.36 L1336.5,711.56 L1339.3,713.17 L1341.9,714.24 L1344.3,714.81 L1346.7,714.94 L1348.9,714.62 L1351.1,713.86 L1353.1,712.75 L1355.1,711.23 L1357.5,708.93 L1359.9,706.17 L1362.1,703.23 L1364.5,699.59 L1367.1,695.19 L1370.9,688.21 L1375.5,679.63 L1377.9,675.53 L1379.9,672.5 L1381.5,670.44 L1382.9,669 L1384.7,667.64 L1386.5,666.73 L1388.3,666.25 L1390.1,666.21 L1391.9,666.59 L1393.7,667.41 L1395.5,668.67 L1396.9,670 L1398.5,671.98 L1400.5,674.93 L1402.9,678.98 L1406.5,685.67 L1411.3,694.7 L1414.1,699.6 L1416.5,703.41 L1418.9,706.8 L1421.3,709.76 L1423.9,712.51 L1426.3,714.64 L1428.7,716.33 L1431.3,717.72 L1434.3,718.87 L1437.9,719.76 L1442.7,720.41 L1450.1,720.8 L1473.5,720.92 L2018.3,720.92 L2018.3,720.92 Z" fill="#FF0000"/>
<path d="M927.5,718.82 L960.5,718.71 L969.7,718.34 L975.7,717.71 L980.7,716.75 L985.1,715.46 L989.3,713.76 L993.7,711.49 L999.3,708.05 L1007.1,703.08 L1011.3,700.8 L1015.1,699.2 L1018.7,698.13 L1022.9,697.38 L1031.7,696.46 L1034.9,695.75 L1037.7,694.7 L1040.5,693.2 L1043.7,690.97 L1051.7,684.5 L1054.5,682.62 L1056.9,681.42 L1059.1,680.73 L1061.3,680.47 L1063.5,680.67 L1065.7,681.33 L1067.7,682.36 L1069.9,683.94 L1072.1,685.99 L1074.5,688.66 L1077.5,692.49 L1084.9,702.62 L1087.9,706.35 L1090.7,709.38 L1093.3,711.75 L1095.9,713.68 L1098.7,715.29 L1101.7,716.53 L1105.3,717.52 L1109.7,718.21 L1116.1,718.64 L1130.9,718.81 L1216.7,718.75 L1225.7,718.43 L1231.3,717.85 L1235.7,716.98 L1239.5,715.8 L1242.9,714.3 L1246.3,712.34 L1249.7,709.93 L1253.5,706.75 L1258.5,702.03 L1267.7,692.99 L1272.5,688.68 L1276.9,685.17 L1280.9,682.42 L1284.5,680.36 L1287.9,678.85 L1291.1,677.88 L1294.1,677.42 L1296.9,677.42 L1299.7,677.86 L1302.5,678.77 L1305.3,680.14 L1308.1,681.97 L1311.1,684.39 L1314.5,687.62 L1319.3,692.75 L1326.5,700.67 L1330.3,704.47 L1333.5,707.26 L1336.5,709.46 L1339.3,711.07 L1341.9,712.14 L1344.3,712.71 L1346.7,712.84 L1348.9,712.52 L1351.1,711.76 L1353.1,710.65 L1355.1,709.13 L1357.3,707 L1359.5,704.4 L1361.7,701.35 L1364.1,697.57 L1366.9,692.68 L1374.1,679.27 L1376.7,674.82 L1378.7,671.78 L1380.7,669.18 L1382.5,667.27 L1384.3,665.8 L1386.1,664.79 L1387.9,664.22 L1389.7,664.08 L1391.5,664.37 L1393.3,665.09 L1395.1,666.25 L1396.9,667.87 L1398.7,669.93 L1400.7,672.68 L1402.9,676.19 L1405.7,681.17 L1412.5,693.98 L1415.3,698.88 L1417.7,702.69 L1420.1,706.06 L1422.3,708.72 L1424.7,711.17 L1427.1,713.15 L1429.7,714.81 L1432.5,716.14 L1435.7,717.17 L1439.7,717.96 L1445.1,718.49 L1454.7,718.77 L2018.3,718.82 L2018.3,723.02 L1468.5,723.02 L1449.3,722.87 L1442.3,722.47 L1437.7,721.83 L1434.1,720.91 L1431.1,719.73 L1428.5,718.3 L1426.1,716.58 L1423.5,714.23 L1420.7,711.25 L1418.1,708.06 L1415.5,704.42 L1412.9,700.31 L1410.1,695.44 L1402.3,680.8 L1399.7,676.29 L1397.7,673.25 L1396.3,671.5 L1394.9,670.3 L1393.1,669.18 L1391.3,668.51 L1389.5,668.28 L1387.7,668.46 L1385.9,669.08 L1384.1,670.14 L1382.5,671.48 L1381.1,673.23 L1379.1,676.25 L1376.7,680.37 L1371.9,689.32 L1368.3,695.92 L1365.5,700.62 L1362.9,704.52 L1360.5,707.67 L1357.9,710.64 L1355.3,713.16 L1353.3,714.71 L1351.3,715.86 L1349.1,716.67 L1346.9,717.03 L1344.5,716.94 L1342.1,716.4 L1339.5,715.36 L1336.7,713.79 L1333.7,711.62 L1330.3,708.67 L1326.1,704.51 L1319.9,697.74 L1314.5,691.85 L1311.3,688.77 L1308.3,686.32 L1305.5,684.46 L1302.7,683.05 L1299.9,682.11 L1297.1,681.64 L1294.3,681.6 L1291.3,682.03 L1288.1,682.98 L1284.7,684.46 L1281.1,686.49 L1277.1,689.22 L1272.7,692.71 L1267.9,697.01 L1258.5,706.24 L1253.3,711.13 L1249.5,714.28 L1246.1,716.67 L1242.7,718.6 L1239.3,720.07 L1235.5,721.23 L1231.1,722.08 L1225.5,722.64 L1216.3,722.95 L1125.3,723 L1114.3,722.76 L1108.5,722.26 L1104.3,721.49 L1100.9,720.44 L1097.9,719.08 L1095.1,717.34 L1092.5,715.27 L1089.5,712.4 L1086.3,708.87 L1082.9,704.63 L1077.7,697.51 L1073.9,692.41 L1071.7,689.82 L1069.9,688.14 L1067.7,686.56 L1065.7,685.53 L1063.5,684.87 L1061.3,684.67 L1059.1,684.93 L1056.9,685.62 L1054.5,686.82 L1051.7,688.7 L1043.7,695.17 L1040.5,697.4 L1037.7,698.9 L1034.9,699.95 L1031.7,700.66 L1022.9,701.58 L1018.7,702.33 L1015.1,703.4 L1011.3,705 L1007.1,707.28 L999.3,712.25 L993.7,715.69 L989.3,717.96 L985.1,719.66 L980.7,720.95 L975.7,721.91 L969.7,722.54 L960.5,722.91 L927.5,723.02 Z" fill="#000"/>
<path d="M927.5,796.78 L927.5,796.78 L1247.7,796.72 L1256.5,796.43 L1261.5,795.9 L1265.3,795.1 L1268.3,794.05 L1270.9,792.72 L1273.3,791.05 L1275.5,789.09 L1277.9,786.5 L1280.1,783.7 L1282.3,780.45 L1284.3,777.05 L1286.5,772.9 L1288.9,767.89 L1291.9,761.11 L1297.1,748.98 L1299.5,743.75 L1301.5,739.81 L1303.1,737.06 L1304.5,735 L1305.7,733.55 L1307.3,732.2 L1308.9,731.28 L1310.5,730.76 L1312.3,730.63 L1314.1,730.96 L1315.9,731.75 L1317.7,733.01 L1319.1,734.35 L1320.9,736.57 L1323.1,739.78 L1330.1,751.04 L1332.7,754.79 L1334.9,757.54 L1337.1,759.86 L1338.9,761.38 L1340.5,762.34 L1342.1,762.91 L1343.7,763.05 L1345.5,762.74 L1347.5,761.89 L1349.7,760.46 L1352.3,758.28 L1356.1,754.54 L1361.5,749.02 L1364.3,746.56 L1366.7,744.85 L1368.9,743.67 L1371.1,742.93 L1373.3,742.62 L1375.5,742.76 L1377.7,743.37 L1379.9,744.45 L1382.1,745.99 L1384.1,747.79 L1386.3,750.22 L1389.1,753.81 L1398.1,766.45 L1401.5,770.81 L1404.5,774.23 L1407.3,776.98 L1409.7,778.94 L1412.1,780.46 L1414.3,781.41 L1416.5,781.93 L1418.7,781.99 L1420.9,781.57 L1423.1,780.72 L1425.5,779.34 L1428.3,777.26 L1432.5,773.56 L1437.3,769.25 L1440.1,767.11 L1442.5,765.67 L1444.9,764.67 L1447.1,764.18 L1449.3,764.12 L1451.5,764.5 L1453.7,765.32 L1455.9,766.57 L1458.3,768.41 L1460.7,770.68 L1464.1,774.48 L1470.7,782.25 L1474.1,785.87 L1477.1,788.66 L1479.9,790.83 L1482.7,792.56 L1485.7,793.96 L1489.1,795.07 L1493.1,795.88 L1498.5,796.43 L1507.7,796.73 L2018.3,796.78 L2018.3,796.78 Z" fill="#0000FF"/>
<path d="M927.5,794.68 L1247.7,794.62 L1256.5,794.33 L1261.5,793.8 L1265.3,793 L1268.3,791.95 L1270.9,790.62 L1273.3,788.95 L1275.5,786.98 L1277.5,784.77 L1279.5,782.14 L1281.5,779.09 L1283.5,775.61 L1285.7,771.34 L1288.1,766.22 L1291.5,758.41 L1295.9,748.17 L1298.3,742.98 L1300.3,739.09 L1302.1,736.03 L1303.7,733.73 L1305.3,731.85 L1306.9,730.4 L1308.5,729.38 L1310.1,728.76 L1311.9,728.52 L1313.7,728.74 L1315.5,729.43 L1317.3,730.59 L1319.1,732.22 L1320.9,734.27 L1323.1,737.26 L1325.9,741.6 L1331.1,750.01 L1333.5,753.52 L1335.5,756.05 L1337.3,757.94 L1339.1,759.42 L1340.7,760.34 L1342.3,760.85 L1343.9,760.94 L1345.7,760.58 L1347.7,759.68 L1349.9,758.21 L1352.5,756 L1356.5,752 L1361.3,747.11 L1364.1,744.62 L1366.5,742.87 L1368.7,741.66 L1370.9,740.88 L1373.1,740.53 L1375.3,740.63 L1377.5,741.2 L1379.7,742.23 L1381.9,743.73 L1384.1,745.68 L1386.5,748.26 L1389.3,751.74 L1393.5,757.56 L1399.1,765.44 L1402.3,769.55 L1405.1,772.73 L1407.7,775.24 L1410.1,777.13 L1412.5,778.56 L1414.7,779.44 L1416.9,779.88 L1419.1,779.84 L1421.3,779.35 L1423.5,778.42 L1426.1,776.84 L1429.1,774.5 L1437.3,767.15 L1440.1,765.01 L1442.5,763.57 L1444.9,762.57 L1447.1,762.08 L1449.3,762.02 L1451.5,762.4 L1453.7,763.22 L1455.9,764.47 L1458.3,766.31 L1460.9,768.77 L1464.3,772.52 L1471.5,780.98 L1474.7,784.35 L1477.5,786.89 L1480.3,789 L1483.1,790.67 L1486.1,792.02 L1489.5,793.07 L1493.7,793.86 L1499.3,794.38 L1509.5,794.64 L2018.3,794.68 L2018.3,798.88 L1507.3,798.82 L1498.3,798.52 L1492.9,797.95 L1488.9,797.11 L1485.5,795.98 L1482.5,794.55 L1479.7,792.79 L1476.9,790.59 L1473.7,787.58 L1470.1,783.74 L1463.9,776.45 L1460.5,772.6 L1458.3,770.51 L1455.9,768.67 L1453.7,767.42 L1451.5,766.6 L1449.3,766.22 L1447.1,766.28 L1444.9,766.77 L1442.5,767.77 L1440.1,769.21 L1437.1,771.52 L1431.3,776.76 L1427.7,779.85 L1424.9,781.83 L1422.5,783.09 L1420.3,783.83 L1418.1,784.12 L1415.9,783.94 L1413.7,783.3 L1411.5,782.22 L1409.1,780.59 L1406.5,778.34 L1403.5,775.29 L1400.3,771.58 L1396.9,767.18 L1389.5,756.74 L1386.3,752.46 L1384.1,749.91 L1382.3,748.26 L1380.1,746.67 L1377.9,745.55 L1375.7,744.9 L1373.5,744.71 L1371.3,744.98 L1369.1,745.69 L1366.9,746.82 L1364.5,748.5 L1361.7,750.93 L1355.7,757.07 L1351.9,760.74 L1349.3,762.85 L1347.1,764.19 L1345.3,764.9 L1343.5,765.16 L1341.9,764.96 L1340.3,764.34 L1338.5,763.18 L1336.3,761.18 L1333.9,758.57 L1331.5,755.52 L1328.9,751.75 L1321.9,740.5 L1319.7,737.31 L1318.3,735.64 L1316.7,734.35 L1314.9,733.35 L1313.1,732.82 L1311.3,732.75 L1309.5,733.14 L1307.9,733.91 L1306.3,735.09 L1305.7,735.74 L1304.5,737.46 L1302.9,740.19 L1301.1,743.69 L1298.7,748.88 L1292.3,763.77 L1289.5,769.97 L1287.3,774.43 L1285.1,778.5 L1282.9,782.09 L1280.7,785.25 L1278.3,788.23 L1275.7,791 L1273.3,793.15 L1270.9,794.82 L1268.3,796.15 L1265.3,797.2 L1261.5,798 L1256.5,798.53 L1247.7,798.82 L927.5,798.88 Z" fill="#000"/>
<path d="M927.5,872.64 L927.5,872.64 L1247.7,872.58 L1256.5,872.29 L1261.5,871.76 L1265.3,870.96 L1268.3,869.91 L1270.9,868.58 L1273.3,866.91 L1275.5,864.95 L1277.9,862.36 L1280.1,859.56 L1282.3,856.31 L1284.3,852.91 L1286.5,848.76 L1288.9,843.75 L1291.9,836.97 L1297.1,824.84 L1299.5,819.61 L1301.5,815.67 L1303.1,812.92 L1304.5,810.86 L1305.7,809.41 L1307.3,808.06 L1308.9,807.14 L1310.5,806.62 L1312.3,806.49 L1314.1,806.82 L1315.9,807.61 L1317.7,808.87 L1319.1,810.21 L1320.9,812.43 L1323.1,815.64 L1330.1,826.9 L1332.7,830.65 L1334.9,833.4 L1337.1,835.72 L1338.9,837.24 L1340.5,838.2 L1342.1,838.77 L1343.7,838.91 L1345.5,838.6 L1347.5,837.75 L1349.7,836.32 L1352.3,834.14 L1356.1,830.4 L1361.5,824.88 L1364.3,822.42 L1366.7,820.71 L1368.9,819.53 L1371.1,818.79 L1373.3,818.48 L1375.5,818.62 L1377.7,819.23 L1379.9,820.31 L1382.1,821.85 L1384.1,823.65 L1386.3,826.08 L1389.1,829.67 L1398.1,842.31 L1401.5,846.67 L1404.5,850.09 L1407.3,852.84 L1409.7,854.8 L1412.1,856.32 L1414.3,857.27 L1416.5,857.79 L1418.7,857.85 L1420.9,857.43 L1423.1,856.58 L1425.5,855.2 L1428.3,853.12 L1432.5,849.42 L1437.3,845.11 L1440.1,842.97 L1442.5,841.53 L1444.9,840.53 L1447.1,840.04 L1449.3,839.98 L1451.5,840.36 L1453.7,841.18 L1455.9,842.43 L1458.3,844.27 L1460.7,846.54 L1464.1,850.34 L1470.7,858.11 L1474.1,861.73 L1477.1,864.52 L1479.9,866.69 L1482.7,868.42 L1485.7,869.82 L1489.1,870.93 L1493.1,871.74 L1498.5,872.29 L1507.7,872.59 L2018.3,872.64 L2018.3,872.64 Z" fill="#FF0000"/>
<path d="M927.5,870.54 L1247.7,870.48 L1256.5,870.19 L1261.5,869.66 L1265.3,868.86 L1268.3,867.81 L1270.9,866.48 L1273.3,864.81 L1275.5,862.84 L1277.5,860.63 L1279.5,858 L1281.5,854.95 L1283.5,851.47 L1285.7,847.2 L1288.1,842.08 L1291.5,834.27 L1295.9,824.03 L1298.3,818.84 L1300.3,814.95 L1302.1,811.89 L1303.7,809.59 L1305.3,807.71 L1306.9,806.26 L1308.5,805.24 L1310.1,804.62 L1311.9,804.38 L1313.7,804.6 L1315.5,805.29 L1317.3,806.45 L1319.1,808.08 L1320.9,810.13 L1323.1,813.12 L1325.9,817.46 L1331.1,825.87 L1333.5,829.38 L1335.5,831.91 L1337.3,833.8 L1339.1,835.28 L1340.7,836.2 L1342.3,836.71 L1343.9,836.8 L1345.7,836.44 L1347.7,835.54 L1349.9,834.07 L1352.5,831.86 L1356.5,827.86 L1361.3,822.97 L1364.1,820.48 L1366.5,818.73 L1368.7,817.52 L1370.9,816.74 L1373.1,816.39 L1375.3,816.49 L1377.5,817.06 L1379.7,818.09 L1381.9,819.59 L1384.1,821.54 L1386.5,824.12 L1389.3,827.6 L1393.5,833.42 L1399.1,841.3 L1402.3,845.41 L1405.1,848.59 L1407.7,851.1 L1410.1,852.99 L1412.5,854.42 L1414.7,855.3 L1416.9,855.74 L1419.1,855.7 L1421.3,855.21 L1423.5,854.28 L1426.1,852.7 L1429.1,850.36 L1437.3,843.01 L1440.1,840.87 L1442.5,839.43 L1444.9,838.43 L1447.1,837.94 L1449.3,837.88 L1451.5,838.26 L1453.7,839.08 L1455.9,840.33 L1458.3,842.17 L1460.9,844.63 L1464.3,848.38 L1471.5,856.84 L1474.7,860.21 L1477.5,862.75 L1480.3,864.86 L1483.1,866.53 L1486.1,867.88 L1489.5,868.93 L1493.7,869.72 L1499.3,870.24 L1509.5,870.5 L2018.3,870.54 L2018.3,874.74 L1507.3,874.68 L1498.3,874.38 L1492.9,873.81 L1488.9,872.97 L1485.5,871.84 L1482.5,870.41 L1479.7,868.65 L1476.9,866.45 L1473.7,863.44 L1470.1,859.6 L1463.9,852.31 L1460.5,848.46 L1458.3,846.37 L1455.9,844.53 L1453.7,843.28 L1451.5,842.46 L1449.3,842.08 L1447.1,842.14 L1444.9,842.63 L1442.5,843.63 L1440.1,845.07 L1437.1,847.38 L1431.3,852.62 L1427.7,855.71 L1424.9,857.69 L1422.5,858.95 L1420.3,859.69 L1418.1,859.98 L1415.9,859.8 L1413.7,859.16 L1411.5,858.08 L1409.1,856.45 L1406.5,854.2 L1403.5,851.15 L1400.3,847.44 L1396.9,843.04 L1389.5,832.6 L1386.3,828.32 L1384.1,825.77 L1382.3,824.12 L1380.1,822.53 L1377.9,821.41 L1375.7,820.76 L1373.5,820.57 L1371.3,820.84 L1369.1,821.55 L1366.9,822.68 L1364.5,824.36 L1361.7,826.79 L1355.7,832.93 L1351.9,836.6 L1349.3,838.71 L1347.1,840.05 L1345.3,840.76 L1343.5,841.02 L1341.9,840.82 L1340.3,840.2 L1338.5,839.04 L1336.3,837.04 L1333.9,834.43 L1331.5,831.38 L1328.9,827.61 L1321.9,816.36 L1319.7,813.17 L1318.3,811.5 L1316.7,810.21 L1314.9,809.21 L1313.1,808.68 L1311.3,808.61 L1309.5,809 L1307.9,809.77 L1306.3,810.95 L1305.7,811.6 L1304.5,813.32 L1302.9,816.05 L1301.1,819.55 L1298.7,824.74 L1292.3,839.63 L1289.5,845.83 L1287.3,850.29 L1285.1,854.36 L1282.9,857.95 L1280.7,861.11 L1278.3,864.09 L1275.7,866.86 L1273.3,869.01 L1270.9,870.68 L1268.3,872.01 L1265.3,873.06 L1261.5,873.86 L1256.5,874.39 L1247.7,874.68 L927.5,874.74 Z" fill="#000"/>
<path d="M927.5,948.5 L927.5,948.19 L946.7,947.49 L967.3,946.62 L979.7,946.52 L993.9,946.95 L1019.7,948.06 L1040.1,948.43 L1114.3,948.46 L1141.3,948.16 L1164.9,947.41 L1188.1,946.61 L1202.9,946.53 L1220.3,946.98 L1250.5,948.07 L1275.1,948.43 L1313.7,948.43 L1327.9,948.09 L1337.7,947.45 L1346.9,946.39 L1366.9,943.28 L1374.5,942.52 L1383.1,942.19 L1392.3,941.93 L1396.9,941.42 L1400.7,940.57 L1403.9,939.43 L1406.9,937.93 L1409.7,936.08 L1412.3,933.93 L1415.1,931.17 L1417.7,928.18 L1420.1,925.02 L1422.5,921.44 L1424.7,917.73 L1426.9,913.62 L1429.1,909.06 L1431.3,904.02 L1433.3,899.01 L1435.5,893.05 L1437.7,886.64 L1440.1,879.19 L1443.3,868.74 L1447.9,853.48 L1450.1,846.53 L1451.9,841.24 L1453.5,836.93 L1454.9,833.56 L1456.3,830.6 L1457.5,828.46 L1458.5,827 L1459.3,826.16 L1460.7,825.2 L1462.1,824.68 L1463.5,824.55 L1464.9,824.82 L1466.3,825.49 L1467.5,826.46 L1468.5,827.82 L1469.5,829.57 L1470.7,832.09 L1471.9,835.02 L1473.1,838.34 L1474.5,842.66 L1475.9,847.41 L1477.5,853.27 L1479.5,861.09 L1482.7,874.23 L1486.1,888.2 L1488.3,896.82 L1490.1,903.47 L1491.7,908.99 L1493.3,914.12 L1494.9,918.81 L1496.5,923.06 L1498.1,926.87 L1499.7,930.23 L1501.5,933.53 L1503.1,936.06 L1504.9,938.51 L1506.9,940.81 L1509.1,942.91 L1511.3,944.53 L1513.7,945.81 L1516.5,946.83 L1520.1,947.62 L1525.1,948.16 L1533.9,948.45 L2018.3,948.5 L2018.3,948.5 Z" fill="#FF0000"/>
<path d="M927.5,946.09 L946.7,945.39 L967.3,944.52 L979.7,944.42 L993.9,944.85 L1019.7,945.96 L1040.1,946.33 L1114.3,946.36 L1141.3,946.06 L1164.9,945.31 L1188.1,944.51 L1202.9,944.43 L1220.3,944.88 L1250.5,945.97 L1275.1,946.33 L1313.7,946.33 L1327.9,945.99 L1337.7,945.35 L1346.9,944.29 L1366.9,941.18 L1374.5,940.42 L1383.1,940.09 L1392.3,939.83 L1396.9,939.32 L1400.7,938.47 L1403.9,937.33 L1406.9,935.83 L1409.7,933.98 L1412.3,931.83 L1414.9,929.24 L1417.3,926.42 L1419.7,923.16 L1421.9,919.76 L1424.1,915.93 L1426.3,911.66 L1428.5,906.93 L1430.5,902.2 L1432.7,896.54 L1434.9,890.41 L1437.1,883.85 L1439.7,875.62 L1446.7,852.48 L1448.9,845.57 L1450.7,840.32 L1452.3,836.07 L1453.7,832.75 L1455.1,829.86 L1456.3,827.74 L1457.5,826 L1458.7,824.62 L1460.1,823.46 L1461.5,822.75 L1462.9,822.46 L1464.3,822.55 L1465.7,823.05 L1467.1,823.99 L1468.3,825.19 L1469.5,826.8 L1470.7,828.83 L1471.9,831.29 L1473.1,834.15 L1474.3,837.41 L1475.7,841.66 L1477.1,846.35 L1478.7,852.16 L1480.7,859.93 L1483.7,872.22 L1487.3,887.04 L1489.5,895.71 L1491.3,902.4 L1493.1,908.64 L1494.7,913.76 L1496.3,918.46 L1497.9,922.71 L1499.5,926.51 L1501.1,929.88 L1502.7,932.81 L1504.3,935.35 L1506.1,937.75 L1507.9,939.71 L1509.9,941.45 L1512.1,942.91 L1514.7,944.13 L1517.7,945.05 L1521.7,945.75 L1527.5,946.19 L1540.3,946.39 L2018.3,946.4 L2018.3,950.6 L1574.9,950.6 L1531.5,950.51 L1523.9,950.17 L1519.3,949.59 L1515.9,948.75 L1513.1,947.63 L1510.7,946.23 L1508.7,944.66 L1506.1,942.1 L1503.9,939.52 L1501.9,936.78 L1500.1,933.91 L1498.5,930.98 L1496.9,927.67 L1495.3,923.92 L1493.7,919.72 L1492.1,915.08 L1490.5,910.01 L1488.7,903.82 L1486.9,897.23 L1484.9,889.45 L1482.1,878.03 L1478.1,861.54 L1476.1,853.67 L1474.5,847.76 L1473.1,843.02 L1471.7,838.7 L1470.5,835.38 L1469.3,832.45 L1468.1,829.93 L1467.1,828.23 L1466.3,827.59 L1464.9,826.92 L1463.5,826.65 L1462.1,826.78 L1460.7,827.3 L1459.3,828.27 L1458.9,828.86 L1457.7,830.95 L1456.3,833.91 L1454.9,837.29 L1453.3,841.59 L1451.5,846.89 L1449.3,853.84 L1443.9,871.75 L1440.9,881.45 L1438.5,888.78 L1436.3,895.08 L1434.1,900.91 L1432.1,905.8 L1429.9,910.71 L1427.7,915.15 L1425.5,919.17 L1423.1,923.09 L1420.7,926.58 L1418.1,929.93 L1415.3,933.09 L1412.3,936.03 L1409.7,938.18 L1406.9,940.03 L1403.9,941.53 L1400.7,942.67 L1396.9,943.52 L1392.3,944.03 L1383.1,944.29 L1374.5,944.62 L1366.9,945.38 L1346.9,948.49 L1337.7,949.55 L1327.9,950.19 L1313.7,950.53 L1275.1,950.53 L1250.5,950.17 L1220.3,949.08 L1202.9,948.63 L1188.1,948.71 L1164.9,949.51 L1141.3,950.26 L1114.3,950.56 L1040.1,950.53 L1019.7,950.16 L993.9,949.05 L979.7,948.62 L967.3,948.72 L946.7,949.59 L927.5,950.29 Z" fill="#000"/>
<path d="M927.5,1024.36 L927.5,1024.05 L946.7,1023.35 L967.3,1022.48 L979.7,1022.38 L993.9,1022.81 L1019.7,1023.92 L1040.1,1024.29 L1114.3,1024.32 L1141.3,1024.02 L1164.9,1023.27 L1188.1,1022.47 L1202.9,1022.39 L1220.3,1022.84 L1250.5,1023.93 L1275.1,1024.29 L1313.7,1024.29 L1327.9,1023.96 L1337.7,1023.32 L1346.9,1022.26 L1366.9,1019.16 L1374.5,1018.4 L1383.1,1018.08 L1392.3,1017.82 L1396.9,1017.31 L1400.7,1016.47 L1403.9,1015.33 L1406.9,1013.83 L1409.7,1011.99 L1412.3,1009.86 L1415.1,1007.1 L1417.7,1004.13 L1420.3,1000.7 L1422.7,997.1 L1424.9,993.37 L1427.1,989.24 L1429.3,984.66 L1431.5,979.59 L1433.7,974.05 L1435.9,968.03 L1438.1,961.57 L1440.7,953.45 L1444.5,940.97 L1448.3,928.48 L1450.5,921.64 L1452.3,916.47 L1453.9,912.29 L1455.3,909.04 L1456.7,906.22 L1457.9,904.23 L1458.9,902.94 L1460.1,901.97 L1461.5,901.27 L1462.9,900.97 L1464.3,901.07 L1465.7,901.56 L1467.1,902.5 L1467.9,903.35 L1468.9,904.87 L1469.9,906.75 L1471.1,909.4 L1472.3,912.45 L1473.7,916.48 L1475.1,920.97 L1476.7,926.59 L1478.5,933.39 L1480.9,943.01 L1485.7,962.72 L1487.9,971.39 L1489.7,978.1 L1491.5,984.36 L1493.1,989.52 L1494.7,994.25 L1496.3,998.53 L1497.9,1002.37 L1499.5,1005.77 L1501.3,1009.11 L1502.9,1011.68 L1504.7,1014.16 L1506.7,1016.5 L1508.9,1018.63 L1511.1,1020.28 L1513.5,1021.6 L1516.3,1022.64 L1519.9,1023.46 L1524.7,1024 L1533.1,1024.3 L2018.3,1024.36 L2018.3,1024.36 Z" fill="#FF0000"/>
<path d="M927.5,1021.95 L946.7,1021.25 L967.3,1020.38 L979.7,1020.28 L993.9,1020.71 L1019.7,1021.82 L1040.1,1022.19 L1114.3,1022.22 L1141.3,1021.92 L1164.9,1021.17 L1188.1,1020.37 L1202.9,1020.29 L1220.3,1020.74 L1250.5,1021.83 L1275.1,1022.19 L1313.7,1022.19 L1327.9,1021.86 L1337.7,1021.22 L1346.9,1020.16 L1366.9,1017.06 L1374.5,1016.3 L1383.1,1015.98 L1392.3,1015.72 L1396.9,1015.21 L1400.7,1014.37 L1403.9,1013.23 L1406.9,1011.73 L1409.7,1009.89 L1412.3,1007.76 L1414.9,1005.18 L1417.3,1002.37 L1419.7,999.13 L1421.9,995.74 L1424.1,991.94 L1426.3,987.69 L1428.5,982.97 L1430.7,977.77 L1432.9,972.1 L1435.1,965.95 L1437.5,958.77 L1440.3,949.86 L1446.7,928.77 L1448.9,921.89 L1450.7,916.66 L1452.3,912.43 L1453.7,909.13 L1455.1,906.24 L1456.5,903.83 L1457.7,902.15 L1459.1,900.65 L1460.5,899.63 L1461.9,899.04 L1463.3,898.86 L1464.7,899.07 L1466.1,899.68 L1467.5,900.76 L1468.7,902.09 L1469.9,903.83 L1471.1,905.99 L1472.3,908.57 L1473.5,911.56 L1474.7,914.93 L1476.1,919.29 L1477.5,924.07 L1479.1,929.96 L1481.1,937.79 L1485.1,954.2 L1487.9,965.57 L1489.9,973.31 L1491.7,979.88 L1493.3,985.34 L1494.9,990.39 L1496.5,995 L1498.1,999.18 L1499.7,1002.91 L1501.3,1006.2 L1502.9,1009.08 L1504.5,1011.55 L1506.3,1013.89 L1508.1,1015.8 L1510.1,1017.49 L1512.3,1018.9 L1514.9,1020.07 L1518.1,1021.01 L1522.3,1021.68 L1528.7,1022.1 L1545.1,1022.26 L2018.3,1022.26 L2018.3,1026.46 L1548.1,1026.46 L1529.3,1026.32 L1522.7,1025.92 L1518.5,1025.29 L1515.3,1024.42 L1512.7,1023.31 L1510.5,1021.98 L1508.5,1020.37 L1505.9,1017.78 L1503.7,1015.17 L1501.7,1012.39 L1499.9,1009.49 L1498.3,1006.52 L1496.7,1003.18 L1495.1,999.39 L1493.5,995.16 L1491.9,990.49 L1490.3,985.39 L1488.7,979.88 L1486.9,973.31 L1484.9,965.57 L1482.1,954.2 L1478.1,937.79 L1476.1,929.96 L1474.5,924.08 L1473.1,919.35 L1471.7,915.05 L1470.5,911.75 L1469.3,908.83 L1468.1,906.32 L1467.1,904.63 L1466.3,904.01 L1464.9,903.33 L1463.5,903.07 L1462.1,903.2 L1460.7,903.72 L1459.3,904.67 L1458.9,905.25 L1457.7,907.34 L1456.3,910.29 L1454.9,913.65 L1453.3,917.93 L1451.5,923.21 L1449.3,930.12 L1444.5,945.97 L1441.3,956.35 L1438.9,963.73 L1436.7,970.07 L1434.5,975.96 L1432.3,981.38 L1430.1,986.31 L1427.9,990.77 L1425.7,994.82 L1423.3,998.76 L1420.7,1002.54 L1418.1,1005.87 L1415.3,1009.03 L1412.3,1011.96 L1409.7,1014.09 L1406.9,1015.93 L1403.9,1017.43 L1400.7,1018.57 L1396.9,1019.41 L1392.3,1019.92 L1383.1,1020.18 L1374.5,1020.5 L1366.9,1021.26 L1346.9,1024.36 L1337.7,1025.42 L1327.9,1026.06 L1313.7,1026.39 L1275.1,1026.39 L1250.5,1026.03 L1220.3,1024.94 L1202.9,1024.49 L1188.1,1024.57 L1164.9,1025.37 L1141.3,1026.12 L1114.3,1026.42 L1040.1,1026.39 L1019.7,1026.02 L993.9,1024.91 L979.7,1024.48 L967.3,1024.58 L946.7,1025.45 L927.5,1026.15 Z" fill="#000"/>
<path d="M927.5,1100.22 L927.5,1100.22 L963.9,1100.12 L973.1,1099.77 L979.1,1099.15 L984.1,1098.21 L988.5,1096.93 L992.7,1095.25 L997.3,1092.92 L1004.5,1088.61 L1010.5,1085.08 L1014.7,1083.02 L1018.7,1081.51 L1023.5,1080.21 L1030.1,1078.69 L1033.1,1077.63 L1035.7,1076.28 L1038.1,1074.57 L1040.5,1072.41 L1043.3,1069.41 L1046.3,1065.72 L1052.7,1057.29 L1054.9,1054.75 L1056.7,1053.09 L1058.7,1051.68 L1060.5,1050.83 L1062.3,1050.38 L1064.1,1050.33 L1065.9,1050.7 L1067.7,1051.49 L1069.5,1052.72 L1070.9,1054.01 L1072.5,1055.94 L1074.3,1058.54 L1076.7,1062.49 L1080.3,1069.02 L1084.7,1077.04 L1087.5,1081.74 L1089.9,1085.34 L1092.3,1088.51 L1094.7,1091.24 L1097.3,1093.73 L1099.7,1095.55 L1102.3,1097.05 L1105.1,1098.18 L1108.5,1099.08 L1112.9,1099.71 L1119.7,1100.09 L1140.7,1100.22 L1223.3,1100.15 L1231.7,1099.83 L1237.1,1099.24 L1241.3,1098.35 L1244.9,1097.15 L1248.1,1095.66 L1251.3,1093.72 L1254.7,1091.17 L1258.5,1087.82 L1264.9,1081.52 L1270.3,1076.26 L1274.3,1072.79 L1277.9,1070.11 L1281.5,1067.87 L1285.1,1066.09 L1288.7,1064.74 L1292.3,1063.86 L1295.7,1063.48 L1298.9,1063.59 L1301.9,1064.14 L1304.7,1065.08 L1307.5,1066.45 L1310.5,1068.38 L1313.7,1070.93 L1317.1,1074.12 L1327.5,1084.94 L1331.3,1088.5 L1334.5,1091.08 L1337.5,1093.04 L1340.3,1094.4 L1342.9,1095.23 L1345.3,1095.57 L1347.7,1095.48 L1349.9,1094.98 L1352.1,1094.05 L1354.3,1092.68 L1356.5,1090.85 L1358.9,1088.41 L1361.3,1085.55 L1363.7,1082.26 L1366.3,1078.27 L1369.7,1072.53 L1375.1,1063.16 L1377.7,1059.04 L1379.7,1056.28 L1381.3,1054.46 L1383.1,1052.92 L1384.9,1051.81 L1386.7,1051.14 L1388.5,1050.87 L1390.3,1051.02 L1392.1,1051.58 L1393.9,1052.57 L1395.7,1053.99 L1397.3,1055.68 L1399.3,1058.32 L1401.7,1062.03 L1405.3,1068.19 L1410.3,1076.9 L1413.1,1081.4 L1415.7,1085.16 L1418.3,1088.45 L1420.9,1091.28 L1423.5,1093.66 L1425.9,1095.42 L1428.5,1096.88 L1431.5,1098.08 L1435.1,1099.02 L1439.7,1099.68 L1446.7,1100.08 L1466.1,1100.22 L2018.3,1100.22 L2018.3,1100.22 Z" fill="#FF0000"/>
<path d="M927.5,1098.12 L963.9,1098.02 L973.1,1097.67 L979.1,1097.05 L984.1,1096.11 L988.5,1094.83 L992.7,1093.15 L997.3,1090.82 L1004.5,1086.51 L1010.5,1082.98 L1014.7,1080.92 L1018.7,1079.41 L1023.5,1078.11 L1030.1,1076.59 L1033.1,1075.53 L1035.7,1074.18 L1038.1,1072.47 L1040.5,1070.3 L1043.1,1067.45 L1046.3,1063.41 L1051.7,1056.28 L1054.1,1053.47 L1056.3,1051.32 L1058.3,1049.82 L1060.1,1048.88 L1061.9,1048.34 L1063.7,1048.21 L1065.5,1048.48 L1067.3,1049.17 L1069.1,1050.31 L1070.9,1051.89 L1072.7,1053.91 L1074.7,1056.62 L1076.9,1060.08 L1079.9,1065.35 L1085.7,1075.98 L1088.5,1080.71 L1090.9,1084.34 L1093.1,1087.25 L1095.3,1089.74 L1097.5,1091.8 L1099.9,1093.59 L1102.5,1095.04 L1105.5,1096.21 L1109.1,1097.09 L1113.7,1097.68 L1121.1,1098.03 L1157.7,1098.12 L1223.5,1098.04 L1231.9,1097.72 L1237.1,1097.14 L1241.3,1096.25 L1244.9,1095.05 L1248.1,1093.56 L1251.3,1091.62 L1254.7,1089.07 L1258.5,1085.72 L1265.5,1078.8 L1270.7,1073.79 L1274.7,1070.37 L1278.3,1067.74 L1281.9,1065.55 L1285.5,1063.81 L1289.1,1062.52 L1292.5,1061.72 L1295.9,1061.37 L1299.1,1061.51 L1302.1,1062.1 L1304.9,1063.06 L1307.7,1064.46 L1310.7,1066.42 L1313.9,1069.01 L1317.5,1072.4 L1327.9,1083.22 L1331.5,1086.58 L1334.7,1089.12 L1337.5,1090.94 L1340.3,1092.3 L1342.9,1093.13 L1345.3,1093.47 L1347.7,1093.38 L1349.9,1092.88 L1352.1,1091.95 L1354.3,1090.58 L1356.5,1088.75 L1358.7,1086.47 L1360.9,1083.77 L1363.3,1080.37 L1366.1,1075.92 L1370.9,1067.61 L1374.5,1061.46 L1376.9,1057.74 L1378.9,1055.02 L1380.9,1052.75 L1382.7,1051.12 L1384.5,1049.92 L1386.3,1049.15 L1388.1,1048.8 L1389.9,1048.85 L1391.7,1049.32 L1393.5,1050.22 L1395.3,1051.54 L1397.1,1053.28 L1399.1,1055.68 L1401.3,1058.8 L1403.9,1062.98 L1411.7,1076.52 L1414.5,1080.99 L1416.9,1084.42 L1419.3,1087.42 L1421.7,1089.96 L1424.1,1092.04 L1426.7,1093.81 L1429.5,1095.23 L1432.7,1096.35 L1436.5,1097.17 L1441.7,1097.74 L1450.3,1098.05 L1647.5,1098.12 L2018.3,1098.12 L2018.3,1102.32 L1453.5,1102.29 L1443.1,1102.03 L1437.5,1101.52 L1433.5,1100.76 L1430.3,1099.75 L1427.5,1098.47 L1424.9,1096.84 L1422.5,1094.9 L1419.7,1092.17 L1416.9,1088.99 L1414.3,1085.61 L1411.7,1081.81 L1408.7,1076.95 L1402.9,1066.82 L1399.9,1061.78 L1397.7,1058.49 L1396.1,1056.48 L1394.5,1055.1 L1392.7,1053.97 L1390.9,1053.26 L1389.1,1052.98 L1387.3,1053.1 L1385.5,1053.64 L1383.7,1054.6 L1381.9,1055.99 L1380.7,1057.29 L1378.9,1059.76 L1376.5,1063.55 L1370.5,1073.96 L1367.1,1079.63 L1364.3,1083.85 L1361.7,1087.32 L1359.1,1090.34 L1356.3,1093.13 L1354.1,1094.92 L1351.9,1096.25 L1349.7,1097.14 L1347.5,1097.61 L1345.1,1097.66 L1342.7,1097.28 L1340.1,1096.42 L1337.3,1095.02 L1334.3,1093.03 L1331.1,1090.43 L1327.1,1086.65 L1317.1,1076.23 L1313.7,1073.03 L1310.5,1070.48 L1307.5,1068.55 L1304.7,1067.18 L1301.9,1066.24 L1298.9,1065.69 L1295.7,1065.58 L1292.3,1065.96 L1288.7,1066.84 L1285.1,1068.19 L1281.5,1069.97 L1277.9,1072.21 L1274.3,1074.89 L1270.3,1078.36 L1264.7,1083.83 L1258.5,1089.92 L1254.7,1093.27 L1251.3,1095.82 L1248.1,1097.76 L1244.9,1099.25 L1241.3,1100.45 L1237.1,1101.34 L1231.7,1101.93 L1223.1,1102.25 L1129.1,1102.31 L1117.1,1102.1 L1111.3,1101.63 L1107.3,1100.91 L1104.1,1099.93 L1101.3,1098.63 L1098.9,1097.1 L1096.5,1095.11 L1093.7,1092.31 L1091.1,1089.27 L1088.5,1085.78 L1085.9,1081.82 L1083.1,1077.07 L1078.3,1068.28 L1074.9,1062.19 L1072.7,1058.64 L1071.1,1056.43 L1070.1,1055.33 L1068.3,1053.95 L1066.5,1053.01 L1064.7,1052.51 L1062.9,1052.42 L1061.1,1052.73 L1059.3,1053.45 L1057.3,1054.72 L1055.5,1056.26 L1053.5,1058.55 L1046.9,1067.24 L1043.7,1071.13 L1040.7,1074.32 L1038.1,1076.67 L1035.7,1078.38 L1033.1,1079.73 L1030.1,1080.79 L1023.5,1082.31 L1018.7,1083.61 L1014.7,1085.12 L1010.5,1087.18 L1004.5,1090.71 L997.3,1095.02 L992.7,1097.35 L988.5,1099.03 L984.1,1100.31 L979.1,1101.25 L973.1,1101.87 L963.9,1102.22 L927.5,1102.32 Z" fill="#000"/>
<path d="M927.5,1176.08 L927.5,1176.08 L1355.5,1176.02 L1365.5,1175.72 L1371.7,1175.14 L1376.3,1174.31 L1380.3,1173.17 L1383.9,1171.71 L1387.3,1169.89 L1390.7,1167.61 L1394.1,1164.86 L1397.9,1161.28 L1401.7,1157.24 L1405.3,1152.97 L1408.7,1148.51 L1411.7,1144.13 L1414.3,1139.9 L1416.9,1135.2 L1419.1,1130.79 L1421.3,1125.91 L1423.3,1121.05 L1425.5,1115.24 L1427.7,1108.99 L1430.3,1101.13 L1437.1,1079.73 L1439.5,1072.58 L1441.3,1067.6 L1443.1,1063.05 L1444.7,1059.44 L1446.1,1056.66 L1447.5,1054.33 L1448.7,1052.73 L1449.9,1051.66 L1451.3,1050.82 L1452.7,1050.37 L1454.3,1050.29 L1455.9,1050.69 L1457.3,1051.47 L1458.3,1052.32 L1459.3,1053.67 L1460.3,1055.4 L1461.5,1057.92 L1462.7,1060.86 L1463.9,1064.23 L1465.1,1068 L1466.5,1072.85 L1467.9,1078.14 L1469.5,1084.62 L1471.9,1094.88 L1475.5,1110.51 L1477.5,1118.82 L1479.3,1125.84 L1480.9,1131.67 L1482.5,1137.07 L1484.1,1142.07 L1485.9,1147.22 L1487.7,1151.9 L1489.5,1156.15 L1491.3,1159.94 L1493.1,1163.29 L1494.7,1165.89 L1496.5,1168.39 L1498.5,1170.7 L1500.5,1172.56 L1502.3,1173.79 L1504.3,1174.71 L1506.9,1175.41 L1510.7,1175.86 L1518.9,1176.06 L2018.3,1176.08 L2018.3,1176.08 Z" fill="#FF0000"/>
<path d="M927.5,1173.98 L1355.5,1173.92 L1365.5,1173.62 L1371.7,1173.04 L1376.3,1172.21 L1380.3,1171.07 L1383.9,1169.61 L1387.3,1167.79 L1390.7,1165.51 L1394.1,1162.76 L1397.7,1159.37 L1401.3,1155.52 L1404.9,1151.21 L1408.1,1146.94 L1410.9,1142.79 L1413.5,1138.5 L1415.9,1134.08 L1418.1,1129.58 L1420.3,1124.61 L1422.3,1119.67 L1424.5,1113.78 L1426.9,1106.86 L1429.7,1098.29 L1435.5,1079.99 L1437.9,1072.8 L1439.9,1067.24 L1441.7,1062.69 L1443.3,1059.08 L1444.7,1056.31 L1446.1,1053.92 L1447.5,1051.95 L1448.9,1050.41 L1450.3,1049.28 L1451.7,1048.55 L1453.3,1048.18 L1454.9,1048.28 L1456.3,1048.77 L1457.7,1049.68 L1458.9,1050.83 L1460.1,1052.36 L1461.3,1054.3 L1462.5,1056.67 L1463.7,1059.48 L1464.9,1062.71 L1466.1,1066.34 L1467.5,1071.06 L1468.9,1076.24 L1470.5,1082.61 L1472.5,1091.06 L1476.9,1110.16 L1478.9,1118.46 L1480.7,1125.49 L1482.3,1131.31 L1483.9,1136.72 L1485.5,1141.71 L1487.3,1146.86 L1489.1,1151.55 L1490.9,1155.79 L1492.7,1159.59 L1494.5,1162.92 L1496.1,1165.47 L1497.7,1167.63 L1499.3,1169.39 L1501.1,1170.92 L1502.9,1172.01 L1505.1,1172.87 L1507.9,1173.47 L1512.5,1173.85 L1527.5,1173.98 L2018.3,1173.98 L2018.3,1178.18 L1516.3,1178.14 L1509.7,1177.88 L1506.3,1177.38 L1503.9,1176.66 L1501.9,1175.65 L1500.1,1174.33 L1497.9,1172.2 L1495.7,1169.65 L1493.7,1166.9 L1491.9,1164.02 L1490.1,1160.69 L1488.3,1156.94 L1486.5,1152.75 L1484.7,1148.12 L1482.9,1143.02 L1481.3,1138.07 L1479.7,1132.72 L1477.9,1126.24 L1476.1,1119.26 L1474.1,1111.01 L1471.1,1098.02 L1468.3,1085.94 L1466.5,1078.58 L1465.1,1073.23 L1463.9,1069.02 L1462.7,1065.19 L1461.5,1061.75 L1460.3,1058.73 L1459.1,1056.14 L1458.1,1054.39 L1457.7,1053.88 L1456.7,1053.19 L1455.3,1052.58 L1453.7,1052.36 L1452.1,1052.62 L1450.7,1053.23 L1449.3,1054.24 L1448.7,1055.04 L1447.5,1057.04 L1446.1,1059.79 L1444.5,1063.4 L1442.7,1067.95 L1440.7,1073.51 L1438.3,1080.7 L1433.5,1095.85 L1430.3,1105.77 L1427.9,1112.81 L1425.7,1118.82 L1423.7,1123.88 L1421.7,1128.54 L1419.5,1133.2 L1417.1,1137.81 L1414.7,1141.97 L1412.1,1146.05 L1409.1,1150.33 L1405.7,1154.73 L1401.9,1159.18 L1397.9,1163.4 L1394.1,1166.96 L1390.7,1169.71 L1387.3,1171.99 L1383.9,1173.81 L1380.3,1175.27 L1376.3,1176.41 L1371.7,1177.24 L1365.5,1177.82 L1355.5,1178.12 L927.5,1178.18 Z" fill="#000"/>
<path d="M927.5,1327.8 L927.5,1327.8 L1358.7,1327.74 L1370.7,1327.43 L1377.9,1326.86 L1383.3,1326.02 L1387.9,1324.88 L1391.9,1323.46 L1395.5,1321.75 L1398.9,1319.71 L1402.3,1317.23 L1405.5,1314.45 L1408.9,1311.06 L1412.1,1307.42 L1415.1,1303.57 L1417.9,1299.54 L1420.3,1295.69 L1422.9,1291.03 L1425.1,1286.65 L1427.1,1282.25 L1429.1,1277.45 L1431.1,1272.21 L1433.1,1266.54 L1435.3,1259.85 L1437.9,1251.43 L1444.1,1230.57 L1446.1,1224.19 L1447.9,1218.88 L1449.3,1215.12 L1450.7,1211.76 L1452.1,1208.84 L1453.3,1206.78 L1454.3,1205.41 L1455.5,1204.38 L1456.9,1203.64 L1458.3,1203.3 L1459.7,1203.35 L1461.1,1203.79 L1462.5,1204.66 L1463.3,1205.38 L1464.3,1206.75 L1465.5,1208.82 L1466.9,1211.75 L1468.3,1215.15 L1469.7,1218.98 L1471.3,1223.79 L1473.1,1229.67 L1475.3,1237.35 L1479.3,1252.01 L1482.9,1265.15 L1485.3,1273.54 L1487.5,1280.79 L1489.5,1286.96 L1491.5,1292.67 L1493.3,1297.39 L1495.1,1301.69 L1496.9,1305.57 L1498.7,1309.03 L1500.5,1312.12 L1502.5,1315.09 L1504.7,1317.88 L1506.9,1320.25 L1509.1,1322.21 L1511.5,1323.87 L1514.1,1325.18 L1517.1,1326.21 L1520.9,1326.99 L1526.1,1327.5 L1535.7,1327.76 L2018.3,1327.8 L2018.3,1327.8 Z" fill="#FF0000"/>
<path d="M927.5,1325.7 L1358.7,1325.64 L1370.7,1325.33 L1377.9,1324.76 L1383.3,1323.92 L1387.9,1322.78 L1391.9,1321.36 L1395.5,1319.65 L1398.9,1317.61 L1402.3,1315.13 L1405.5,1312.35 L1408.7,1309.13 L1411.7,1305.67 L1414.5,1302.02 L1417.1,1298.22 L1419.5,1294.29 L1421.7,1290.3 L1423.9,1285.87 L1425.9,1281.44 L1427.9,1276.59 L1429.9,1271.3 L1431.9,1265.6 L1434.1,1258.86 L1436.7,1250.41 L1442.5,1230.87 L1444.7,1223.84 L1446.5,1218.53 L1447.9,1214.77 L1449.3,1211.4 L1450.7,1208.49 L1451.9,1206.38 L1453.1,1204.64 L1454.3,1203.28 L1455.7,1202.15 L1457.1,1201.47 L1458.5,1201.19 L1459.9,1201.29 L1461.3,1201.79 L1462.7,1202.72 L1463.9,1203.89 L1465.1,1205.43 L1466.3,1207.36 L1467.5,1209.66 L1468.9,1212.8 L1470.3,1216.39 L1471.7,1220.37 L1473.3,1225.35 L1475.3,1232.06 L1477.9,1241.34 L1483.7,1262.65 L1486.3,1271.81 L1488.5,1279.15 L1490.5,1285.41 L1492.5,1291.22 L1494.3,1296.02 L1496.1,1300.42 L1497.9,1304.39 L1499.7,1307.94 L1501.5,1311.08 L1503.3,1313.81 L1505.3,1316.39 L1507.3,1318.53 L1509.5,1320.42 L1511.9,1322 L1514.5,1323.24 L1517.7,1324.26 L1521.7,1325 L1527.3,1325.47 L1538.7,1325.68 L2018.3,1325.7 L2018.3,1329.9 L1552.3,1329.9 L1530.3,1329.78 L1523.5,1329.4 L1519.1,1328.77 L1515.7,1327.88 L1512.9,1326.73 L1510.5,1325.33 L1508.3,1323.65 L1505.7,1321.14 L1503.3,1318.43 L1501.1,1315.54 L1499.1,1312.51 L1497.1,1309.04 L1495.1,1305.1 L1493.3,1301.13 L1491.5,1296.73 L1489.7,1291.93 L1487.7,1286.12 L1485.7,1279.86 L1483.5,1272.52 L1480.7,1262.65 L1474.9,1241.34 L1472.5,1232.77 L1470.5,1226.06 L1468.9,1221.08 L1467.5,1217.1 L1466.1,1213.51 L1464.7,1210.37 L1463.5,1208.11 L1462.7,1206.92 L1461.9,1206.33 L1460.5,1205.66 L1459.1,1205.39 L1457.7,1205.5 L1456.3,1206 L1454.9,1206.94 L1454.5,1207.49 L1453.3,1209.59 L1452.1,1212.11 L1450.7,1215.48 L1449.3,1219.24 L1447.7,1223.94 L1445.7,1230.27 L1442.7,1240.31 L1438.7,1253.77 L1436.3,1261.45 L1434.1,1268.06 L1432.1,1273.64 L1430.1,1278.8 L1428.1,1283.52 L1425.9,1288.24 L1423.5,1292.89 L1421.1,1297.08 L1418.5,1301.16 L1415.7,1305.12 L1412.5,1309.16 L1409.1,1312.98 L1405.5,1316.55 L1402.3,1319.33 L1398.9,1321.81 L1395.5,1323.85 L1391.9,1325.56 L1387.9,1326.98 L1383.3,1328.12 L1377.9,1328.96 L1370.7,1329.53 L1358.7,1329.84 L927.5,1329.9 Z" fill="#000"/>
<path d="M927.5,1403.66 L927.5,1403.66 L1364.3,1403.6 L1374.3,1403.29 L1380.3,1402.73 L1384.7,1401.93 L1388.3,1400.87 L1391.5,1399.53 L1394.5,1397.83 L1397.3,1395.8 L1400.1,1393.31 L1403.1,1390.18 L1405.9,1386.83 L1408.9,1382.78 L1412.1,1378 L1415.5,1372.42 L1419.1,1366.04 L1422.3,1359.94 L1424.9,1354.59 L1427.3,1349.23 L1429.3,1344.37 L1431.3,1339.08 L1433.1,1333.92 L1435.1,1327.74 L1437.3,1320.43 L1440.3,1309.87 L1443.5,1298.52 L1445.3,1292.51 L1446.7,1288.19 L1448.1,1284.31 L1449.3,1281.39 L1450.5,1278.9 L1451.5,1277.23 L1452.1,1276.45 L1453.3,1275.53 L1454.7,1274.94 L1456.1,1274.8 L1457.5,1275.09 L1458.7,1275.7 L1459.7,1276.5 L1460.7,1277.86 L1461.7,1279.61 L1462.9,1282.11 L1464.3,1285.49 L1465.7,1289.28 L1467.5,1294.64 L1469.7,1301.72 L1472.9,1312.6 L1482.1,1344.61 L1485.5,1356.06 L1487.9,1363.77 L1490.1,1370.4 L1491.9,1375.43 L1493.7,1380.04 L1495.3,1383.74 L1496.9,1387.06 L1498.7,1390.33 L1500.3,1392.83 L1502.1,1395.24 L1504.1,1397.48 L1506.1,1399.32 L1508.1,1400.7 L1510.3,1401.76 L1513.1,1402.62 L1516.7,1403.21 L1522.5,1403.56 L1547.3,1403.66 L2018.3,1403.66 L2018.3,1403.66 Z" fill="#FF0000"/>
<path d="M927.5,1401.56 L1364.3,1401.5 L1374.3,1401.19 L1380.3,1400.63 L1384.7,1399.83 L1388.3,1398.77 L1391.5,1397.43 L1394.5,1395.73 L1397.3,1393.7 L1400.1,1391.2 L1402.9,1388.23 L1405.7,1384.79 L1408.7,1380.62 L1411.9,1375.69 L1415.3,1369.98 L1418.7,1363.83 L1421.7,1357.99 L1424.3,1352.5 L1426.5,1347.46 L1428.5,1342.47 L1430.5,1337.05 L1432.3,1331.76 L1434.3,1325.44 L1436.5,1318 L1442.1,1298.17 L1443.9,1292.15 L1445.3,1287.84 L1446.7,1283.95 L1447.9,1281.03 L1449.1,1278.54 L1450.3,1276.51 L1451.5,1274.95 L1452.7,1273.84 L1453.9,1273.12 L1455.3,1272.73 L1456.7,1272.77 L1458.1,1273.25 L1459.3,1274.04 L1460.5,1275.23 L1461.7,1276.84 L1462.9,1278.87 L1464.1,1281.31 L1465.5,1284.62 L1466.9,1288.36 L1468.5,1293.06 L1470.5,1299.39 L1473.3,1308.8 L1483.7,1344.94 L1486.9,1355.71 L1489.3,1363.41 L1491.5,1370.04 L1493.3,1375.07 L1495.1,1379.68 L1496.7,1383.39 L1498.3,1386.7 L1499.9,1389.61 L1501.5,1392.12 L1503.3,1394.47 L1505.1,1396.35 L1507.1,1397.96 L1509.3,1399.23 L1511.9,1400.21 L1515.1,1400.9 L1519.9,1401.36 L1530.3,1401.55 L2018.3,1401.56 L2018.3,1405.76 L1534.3,1405.76 L1520.9,1405.6 L1515.7,1405.19 L1512.3,1404.52 L1509.7,1403.61 L1507.5,1402.43 L1505.5,1400.91 L1503.1,1398.57 L1500.9,1396 L1498.9,1393.25 L1497.1,1390.37 L1495.5,1387.41 L1493.9,1384.1 L1492.3,1380.39 L1490.5,1375.78 L1488.7,1370.75 L1486.5,1364.12 L1484.1,1356.42 L1480.7,1344.97 L1471.5,1312.96 L1468.3,1302.08 L1466.1,1295 L1464.3,1289.64 L1462.9,1285.84 L1461.5,1282.47 L1460.3,1279.97 L1459.3,1278.27 L1458.7,1277.8 L1457.5,1277.19 L1456.1,1276.9 L1454.7,1277.04 L1453.3,1277.63 L1452.5,1278.25 L1451.7,1279.64 L1450.7,1281.74 L1449.5,1284.66 L1448.1,1288.55 L1446.7,1292.86 L1444.9,1298.88 L1440.3,1315.21 L1437.9,1323.5 L1435.9,1330 L1433.9,1336.04 L1431.9,1341.61 L1429.9,1346.72 L1427.7,1351.88 L1425.3,1357.06 L1422.5,1362.64 L1419.3,1368.6 L1415.9,1374.49 L1412.5,1379.95 L1409.3,1384.63 L1406.3,1388.59 L1403.3,1392.12 L1400.1,1395.41 L1397.3,1397.9 L1394.5,1399.93 L1391.5,1401.63 L1388.3,1402.97 L1384.7,1404.03 L1380.3,1404.83 L1374.3,1405.39 L1364.3,1405.7 L927.5,1405.76 Z" fill="#000"/>
<path d="M927.5,1479.52 L927.5,1479.52 L1366.7,1479.46 L1379.3,1479.14 L1387.1,1478.56 L1393.1,1477.69 L1398.1,1476.55 L1402.7,1475.06 L1406.7,1473.34 L1410.3,1471.34 L1413.3,1469.26 L1415.9,1467.02 L1418.5,1464.34 L1420.7,1461.66 L1422.7,1458.81 L1424.5,1455.83 L1426.3,1452.41 L1427.9,1448.96 L1429.5,1445.09 L1431.1,1440.8 L1432.7,1436.11 L1434.5,1430.4 L1436.5,1423.6 L1439.1,1414.27 L1445.7,1389.94 L1448.7,1379.29 L1450.9,1371.86 L1452.7,1366.16 L1454.3,1361.5 L1455.7,1357.85 L1456.9,1355.12 L1457.9,1353.16 L1458.9,1351.61 L1459.5,1350.98 L1460.7,1350.2 L1461.9,1349.8 L1463.3,1349.76 L1464.5,1350.1 L1465.7,1350.81 L1466.3,1351.35 L1467.3,1352.84 L1468.3,1354.78 L1469.5,1357.55 L1470.7,1360.73 L1472.1,1364.92 L1473.7,1370.19 L1475.5,1376.59 L1477.7,1384.89 L1481.1,1398.29 L1485.7,1416.55 L1488.1,1425.7 L1490.1,1432.94 L1491.9,1439.06 L1493.7,1444.73 L1495.3,1449.36 L1496.9,1453.58 L1498.5,1457.38 L1500.1,1460.77 L1501.9,1464.1 L1503.5,1466.67 L1505.3,1469.17 L1507.3,1471.52 L1509.5,1473.67 L1511.7,1475.35 L1514.1,1476.69 L1516.9,1477.76 L1520.3,1478.56 L1525.1,1479.13 L1533.1,1479.45 L1631.1,1479.52 L2018.3,1479.52 L2018.3,1479.52 Z" fill="#FF0000"/>
<path d="M927.5,1477.42 L1366.7,1477.36 L1379.3,1477.04 L1387.1,1476.46 L1393.1,1475.59 L1398.1,1474.45 L1402.7,1472.96 L1406.7,1471.24 L1410.3,1469.24 L1413.3,1467.16 L1415.9,1464.92 L1418.1,1462.63 L1420.1,1460.13 L1421.9,1457.48 L1423.7,1454.39 L1425.3,1451.23 L1426.9,1447.68 L1428.5,1443.7 L1430.1,1439.31 L1431.9,1433.9 L1433.7,1428.05 L1435.9,1420.43 L1439.1,1408.76 L1444.3,1389.59 L1447.3,1378.94 L1449.5,1371.51 L1451.3,1365.8 L1452.9,1361.15 L1454.3,1357.5 L1455.5,1354.76 L1456.7,1352.45 L1457.9,1350.61 L1459.1,1349.24 L1460.3,1348.32 L1461.5,1347.79 L1462.9,1347.63 L1464.3,1347.92 L1465.5,1348.56 L1466.7,1349.63 L1467.7,1350.88 L1468.7,1352.48 L1469.7,1354.43 L1470.9,1357.19 L1472.1,1360.38 L1473.5,1364.56 L1475.1,1369.83 L1476.9,1376.24 L1479.1,1384.54 L1482.5,1397.93 L1487.1,1416.19 L1489.5,1425.35 L1491.5,1432.59 L1493.3,1438.71 L1495.1,1444.38 L1496.7,1449.01 L1498.3,1453.23 L1499.9,1457.03 L1501.5,1460.41 L1503.1,1463.38 L1504.7,1465.96 L1506.5,1468.41 L1508.3,1470.44 L1510.3,1472.24 L1512.5,1473.75 L1514.9,1474.95 L1517.9,1475.94 L1521.7,1476.68 L1527.1,1477.16 L1537.7,1477.39 L2018.3,1477.42 L2018.3,1481.62 L1542.1,1481.61 L1528.5,1481.43 L1522.5,1480.98 L1518.5,1480.29 L1515.5,1479.38 L1512.9,1478.18 L1510.7,1476.75 L1508.7,1475.04 L1506.3,1472.58 L1504.1,1469.91 L1502.1,1467.09 L1500.3,1464.13 L1498.5,1460.72 L1496.9,1457.29 L1495.3,1453.43 L1493.7,1449.16 L1492.1,1444.48 L1490.3,1438.76 L1488.5,1432.59 L1486.3,1424.6 L1483.9,1415.41 L1479.1,1396.34 L1475.9,1383.77 L1473.7,1375.5 L1472.1,1369.86 L1470.5,1364.65 L1469.1,1360.53 L1467.9,1357.41 L1466.7,1354.72 L1465.7,1352.91 L1464.9,1352.39 L1463.7,1351.94 L1462.3,1351.84 L1460.9,1352.21 L1459.7,1352.92 L1459.3,1353.55 L1458.3,1355.47 L1457.1,1358.2 L1455.7,1361.86 L1454.1,1366.51 L1452.3,1372.22 L1450.1,1379.65 L1447.5,1388.86 L1439.9,1416.83 L1437.3,1426.04 L1435.3,1432.7 L1433.5,1438.27 L1431.9,1442.81 L1430.3,1446.94 L1428.7,1450.66 L1427.1,1453.96 L1425.3,1457.26 L1423.3,1460.43 L1421.1,1463.45 L1418.7,1466.28 L1415.9,1469.13 L1413.3,1471.36 L1410.3,1473.44 L1406.7,1475.44 L1402.7,1477.16 L1398.1,1478.65 L1393.1,1479.79 L1387.1,1480.66 L1379.3,1481.24 L1366.7,1481.56 L927.5,1481.62 Z" fill="#000"/>
<path d="M927.5,1555.38 L927.5,1555.38 L1366.5,1555.32 L1379.1,1555.01 L1386.9,1554.43 L1392.9,1553.56 L1397.9,1552.42 L1402.5,1550.93 L1406.5,1549.2 L1410.1,1547.2 L1413.1,1545.12 L1415.7,1542.88 L1418.3,1540.21 L1420.5,1537.53 L1422.5,1534.69 L1424.3,1531.71 L1426.1,1528.3 L1427.7,1524.84 L1429.3,1520.96 L1430.9,1516.66 L1432.5,1511.95 L1434.3,1506.21 L1436.3,1499.36 L1438.9,1489.92 L1445.7,1464.49 L1448.5,1454.39 L1450.7,1446.82 L1452.5,1440.99 L1454.1,1436.2 L1455.5,1432.44 L1456.7,1429.6 L1457.9,1427.18 L1458.9,1425.6 L1459.5,1424.95 L1460.7,1424.17 L1461.9,1423.76 L1463.3,1423.72 L1464.5,1424.06 L1465.7,1424.78 L1466.3,1425.33 L1467.3,1426.86 L1468.3,1428.82 L1469.5,1431.63 L1470.7,1434.86 L1472.1,1439.1 L1473.7,1444.45 L1475.5,1450.95 L1477.7,1459.37 L1481.1,1472.96 L1485.7,1491.49 L1488.1,1500.78 L1490.1,1508.13 L1491.9,1514.33 L1493.7,1520.09 L1495.3,1524.79 L1496.9,1529.07 L1498.5,1532.93 L1500.1,1536.36 L1501.9,1539.74 L1503.5,1542.35 L1505.3,1544.88 L1507.3,1547.26 L1509.5,1549.44 L1511.5,1551.01 L1513.9,1552.41 L1516.7,1553.53 L1520.1,1554.37 L1524.7,1554.96 L1532.3,1555.29 L1577.1,1555.38 L2018.3,1555.38 L2018.3,1555.38 Z" fill="#FF0000"/>
<path d="M927.5,1553.28 L1366.5,1553.22 L1379.1,1552.91 L1386.9,1552.33 L1392.9,1551.46 L1397.9,1550.32 L1402.5,1548.83 L1406.5,1547.1 L1410.1,1545.1 L1413.1,1543.02 L1415.7,1540.78 L1417.9,1538.49 L1419.9,1535.99 L1421.7,1533.35 L1423.5,1530.27 L1425.1,1527.12 L1426.7,1523.56 L1428.3,1519.57 L1429.9,1515.17 L1431.5,1510.36 L1433.3,1504.52 L1435.3,1497.58 L1438.1,1487.34 L1444.1,1464.87 L1447.1,1454.04 L1449.3,1446.46 L1451.1,1440.63 L1452.7,1435.85 L1454.1,1432.08 L1455.3,1429.24 L1456.5,1426.82 L1457.5,1425.17 L1458.5,1423.84 L1459.7,1422.69 L1460.9,1421.97 L1462.3,1421.6 L1463.7,1421.7 L1464.9,1422.15 L1466.1,1423.01 L1467.3,1424.33 L1468.3,1425.8 L1469.3,1427.64 L1470.5,1430.29 L1471.7,1433.38 L1473.1,1437.49 L1474.5,1442.04 L1476.1,1447.65 L1478.1,1455.13 L1480.9,1466.15 L1486.9,1490.34 L1489.3,1499.67 L1491.3,1507.06 L1493.1,1513.31 L1494.9,1519.12 L1496.5,1523.87 L1498.1,1528.2 L1499.7,1532.11 L1501.3,1535.6 L1502.9,1538.67 L1504.5,1541.33 L1506.3,1543.88 L1508.1,1545.98 L1510.1,1547.85 L1512.3,1549.43 L1514.7,1550.68 L1517.5,1551.67 L1521.1,1552.44 L1526.1,1552.96 L1535.3,1553.23 L2018.3,1553.28 L2018.3,1557.48 L1541.1,1557.47 L1528.3,1557.27 L1522.5,1556.83 L1518.5,1556.13 L1515.5,1555.21 L1512.9,1553.99 L1510.7,1552.53 L1508.7,1550.8 L1506.3,1548.31 L1504.1,1545.62 L1502.1,1542.76 L1500.3,1539.76 L1498.5,1536.31 L1496.9,1532.82 L1495.3,1528.91 L1493.7,1524.58 L1492.1,1519.83 L1490.3,1514.02 L1488.3,1507.06 L1486.3,1499.67 L1483.9,1490.34 L1478.7,1469.37 L1475.7,1457.45 L1473.5,1449.11 L1471.9,1443.42 L1470.5,1438.82 L1469.1,1434.65 L1467.9,1431.48 L1466.7,1428.76 L1465.7,1426.91 L1464.9,1426.35 L1463.7,1425.9 L1462.3,1425.8 L1460.9,1426.17 L1459.7,1426.9 L1459.5,1427.22 L1458.5,1429.1 L1457.3,1431.8 L1455.9,1435.44 L1454.3,1440.1 L1452.5,1445.84 L1450.3,1453.34 L1447.7,1462.67 L1443.5,1478.32 L1439.5,1493.25 L1437.1,1501.81 L1435.1,1508.53 L1433.3,1514.12 L1431.7,1518.68 L1430.1,1522.82 L1428.5,1526.54 L1426.9,1529.84 L1425.1,1533.13 L1423.1,1536.3 L1420.9,1539.31 L1418.5,1542.14 L1415.7,1544.99 L1413.1,1547.22 L1410.1,1549.3 L1406.5,1551.3 L1402.5,1553.03 L1397.9,1554.52 L1392.9,1555.66 L1386.9,1556.53 L1379.1,1557.11 L1366.5,1557.42 L927.5,1557.48 Z" fill="#000"/>
<path d="M927.5,1631.24 L927.5,1631.24 L1366.5,1631.18 L1379.1,1630.87 L1386.9,1630.29 L1392.9,1629.43 L1397.9,1628.29 L1402.5,1626.8 L1406.5,1625.07 L1410.1,1623.08 L1413.1,1620.99 L1415.7,1618.76 L1418.3,1616.09 L1420.5,1613.42 L1422.5,1610.58 L1424.3,1607.6 L1426.1,1604.2 L1427.7,1600.75 L1429.3,1596.87 L1430.9,1592.58 L1432.5,1587.88 L1434.3,1582.14 L1436.3,1575.3 L1438.9,1565.88 L1445.7,1540.49 L1448.5,1530.41 L1450.7,1522.84 L1452.5,1517.02 L1454.1,1512.24 L1455.5,1508.48 L1456.7,1505.65 L1457.9,1503.23 L1458.9,1501.66 L1459.5,1501.01 L1460.7,1500.23 L1461.9,1499.82 L1463.3,1499.78 L1464.5,1500.12 L1465.7,1500.84 L1466.3,1501.39 L1467.3,1502.91 L1468.3,1504.87 L1469.5,1507.67 L1470.7,1510.9 L1472.1,1515.14 L1473.7,1520.48 L1475.5,1526.97 L1477.7,1535.37 L1481.1,1548.95 L1485.7,1567.45 L1488.1,1576.72 L1490.1,1584.06 L1491.9,1590.25 L1493.7,1596 L1495.3,1600.69 L1496.9,1604.97 L1498.5,1608.82 L1500.1,1612.25 L1501.9,1615.62 L1503.5,1618.23 L1505.3,1620.75 L1507.3,1623.13 L1509.5,1625.31 L1511.5,1626.88 L1513.9,1628.28 L1516.7,1629.39 L1520.1,1630.23 L1524.7,1630.82 L1532.3,1631.15 L1577.3,1631.24 L2018.3,1631.24 L2018.3,1631.24 Z" fill="#FF0000"/>
<path d="M927.5,1629.14 L1366.5,1629.08 L1379.1,1628.77 L1386.9,1628.19 L1392.9,1627.33 L1397.9,1626.19 L1402.5,1624.7 L1406.5,1622.97 L1410.1,1620.98 L1413.1,1618.89 L1415.7,1616.66 L1417.9,1614.37 L1419.9,1611.88 L1421.7,1609.24 L1423.5,1606.16 L1425.1,1603.02 L1426.7,1599.46 L1428.3,1595.49 L1429.9,1591.09 L1431.5,1586.29 L1433.3,1580.45 L1435.3,1573.53 L1438.1,1563.3 L1444.1,1540.87 L1447.1,1530.05 L1449.3,1522.49 L1451.1,1516.66 L1452.7,1511.89 L1454.1,1508.13 L1455.3,1505.29 L1456.5,1502.88 L1457.5,1501.22 L1458.5,1499.9 L1459.7,1498.75 L1460.9,1498.03 L1462.3,1497.66 L1463.7,1497.76 L1464.9,1498.21 L1466.1,1499.07 L1467.3,1500.38 L1468.3,1501.86 L1469.3,1503.69 L1470.5,1506.33 L1471.7,1509.43 L1473.1,1513.53 L1474.5,1518.07 L1476.1,1523.67 L1478.1,1531.15 L1480.9,1542.15 L1486.9,1566.3 L1489.3,1575.61 L1491.3,1582.99 L1493.1,1589.23 L1494.9,1595.03 L1496.5,1599.77 L1498.1,1604.1 L1499.7,1608.01 L1501.3,1611.49 L1502.9,1614.55 L1504.5,1617.21 L1506.3,1619.75 L1508.1,1621.85 L1510.1,1623.72 L1512.3,1625.3 L1514.7,1626.55 L1517.5,1627.53 L1521.1,1628.3 L1526.1,1628.82 L1535.3,1629.09 L2018.3,1629.14 L2018.3,1633.34 L1541.1,1633.33 L1528.3,1633.13 L1522.5,1632.69 L1518.5,1631.99 L1515.5,1631.07 L1512.9,1629.85 L1510.7,1628.4 L1508.7,1626.67 L1506.3,1624.18 L1504.1,1621.5 L1502.1,1618.64 L1500.3,1615.65 L1498.5,1612.2 L1496.9,1608.72 L1495.3,1604.81 L1493.7,1600.48 L1492.1,1595.74 L1490.3,1589.94 L1488.3,1582.99 L1486.3,1575.61 L1483.9,1566.3 L1478.7,1545.36 L1475.7,1533.46 L1473.5,1525.13 L1471.9,1519.45 L1470.5,1514.86 L1469.1,1510.69 L1467.9,1507.53 L1466.7,1504.81 L1465.7,1502.96 L1464.9,1502.41 L1463.7,1501.96 L1462.3,1501.86 L1460.9,1502.23 L1459.7,1502.95 L1459.5,1503.27 L1458.5,1505.15 L1457.3,1507.85 L1455.9,1511.48 L1454.3,1516.14 L1452.5,1521.87 L1450.3,1529.36 L1447.7,1538.67 L1443.5,1554.3 L1439.5,1569.2 L1437.1,1577.75 L1435.1,1584.46 L1433.3,1590.04 L1431.7,1594.59 L1430.1,1598.73 L1428.5,1602.44 L1426.9,1605.74 L1425.1,1609.03 L1423.1,1612.19 L1420.9,1615.2 L1418.5,1618.03 L1415.7,1620.87 L1413.1,1623.09 L1410.1,1625.18 L1406.5,1627.17 L1402.5,1628.9 L1397.9,1630.39 L1392.9,1631.53 L1386.9,1632.39 L1379.1,1632.97 L1366.5,1633.28 L927.5,1633.34 Z" fill="#000"/>
<path d="M927.5,1707.1 L927.5,1707.1 L1366.5,1707.04 L1379.1,1706.73 L1386.9,1706.15 L1392.9,1705.29 L1397.9,1704.15 L1402.5,1702.66 L1406.5,1700.93 L1410.1,1698.94 L1413.1,1696.85 L1415.7,1694.62 L1418.3,1691.95 L1420.5,1689.28 L1422.5,1686.44 L1424.3,1683.46 L1426.1,1680.06 L1427.7,1676.61 L1429.3,1672.73 L1430.9,1668.44 L1432.5,1663.74 L1434.3,1658 L1436.3,1651.16 L1438.9,1641.74 L1445.7,1616.35 L1448.5,1606.27 L1450.7,1598.7 L1452.5,1592.88 L1454.1,1588.1 L1455.5,1584.34 L1456.7,1581.51 L1457.9,1579.09 L1458.9,1577.52 L1459.5,1576.87 L1460.7,1576.09 L1461.9,1575.68 L1463.3,1575.64 L1464.5,1575.98 L1465.7,1576.7 L1466.3,1577.25 L1467.3,1578.77 L1468.3,1580.73 L1469.5,1583.53 L1470.7,1586.76 L1472.1,1591 L1473.7,1596.34 L1475.5,1602.83 L1477.7,1611.23 L1481.1,1624.81 L1485.7,1643.31 L1488.1,1652.58 L1490.1,1659.92 L1491.9,1666.11 L1493.7,1671.86 L1495.3,1676.55 L1496.9,1680.83 L1498.5,1684.68 L1500.1,1688.11 L1501.9,1691.48 L1503.5,1694.09 L1505.3,1696.61 L1507.3,1698.99 L1509.5,1701.17 L1511.5,1702.74 L1513.9,1704.14 L1516.7,1705.25 L1520.1,1706.09 L1524.7,1706.68 L1532.3,1707.01 L1577.3,1707.1 L2018.3,1707.1 L2018.3,1707.1 Z" fill="#FF0000"/>
<path d="M927.5,1705 L1366.5,1704.94 L1379.1,1704.63 L1386.9,1704.05 L1392.9,1703.19 L1397.9,1702.05 L1402.5,1700.56 L1406.5,1698.83 L1410.1,1696.84 L1413.1,1694.75 L1415.7,1692.52 L1417.9,1690.23 L1419.9,1687.74 L1421.7,1685.1 L1423.5,1682.02 L1425.1,1678.88 L1426.7,1675.32 L1428.3,1671.35 L1429.9,1666.95 L1431.5,1662.15 L1433.3,1656.31 L1435.3,1649.39 L1438.1,1639.16 L1444.1,1616.73 L1447.1,1605.91 L1449.3,1598.35 L1451.1,1592.52 L1452.7,1587.75 L1454.1,1583.99 L1455.3,1581.15 L1456.5,1578.74 L1457.5,1577.08 L1458.5,1575.76 L1459.7,1574.61 L1460.9,1573.89 L1462.3,1573.52 L1463.7,1573.62 L1464.9,1574.07 L1466.1,1574.93 L1467.3,1576.24 L1468.3,1577.72 L1469.3,1579.55 L1470.5,1582.19 L1471.7,1585.29 L1473.1,1589.39 L1474.5,1593.93 L1476.1,1599.53 L1478.1,1607.01 L1480.9,1618.01 L1486.9,1642.16 L1489.3,1651.47 L1491.3,1658.85 L1493.1,1665.09 L1494.9,1670.89 L1496.5,1675.63 L1498.1,1679.96 L1499.7,1683.87 L1501.3,1687.35 L1502.9,1690.41 L1504.5,1693.07 L1506.3,1695.61 L1508.1,1697.71 L1510.1,1699.58 L1512.3,1701.16 L1514.7,1702.41 L1517.5,1703.39 L1521.1,1704.16 L1526.1,1704.68 L1535.3,1704.95 L2018.3,1705 L2018.3,1709.2 L1541.1,1709.19 L1528.3,1708.99 L1522.5,1708.55 L1518.5,1707.85 L1515.5,1706.93 L1512.9,1705.71 L1510.7,1704.26 L1508.7,1702.53 L1506.3,1700.04 L1504.1,1697.36 L1502.1,1694.5 L1500.3,1691.51 L1498.5,1688.06 L1496.9,1684.58 L1495.3,1680.67 L1493.7,1676.34 L1492.1,1671.6 L1490.3,1665.8 L1488.3,1658.85 L1486.3,1651.47 L1483.9,1642.16 L1478.7,1621.22 L1475.7,1609.32 L1473.5,1600.99 L1471.9,1595.31 L1470.5,1590.72 L1469.1,1586.55 L1467.9,1583.39 L1466.7,1580.67 L1465.7,1578.82 L1464.9,1578.27 L1463.7,1577.82 L1462.3,1577.72 L1460.9,1578.09 L1459.7,1578.81 L1459.5,1579.13 L1458.5,1581.01 L1457.3,1583.71 L1455.9,1587.34 L1454.3,1592 L1452.5,1597.73 L1450.3,1605.22 L1447.7,1614.53 L1443.5,1630.16 L1439.5,1645.06 L1437.1,1653.61 L1435.1,1660.32 L1433.3,1665.9 L1431.7,1670.45 L1430.1,1674.59 L1428.5,1678.3 L1426.9,1681.6 L1425.1,1684.89 L1423.1,1688.05 L1420.9,1691.06 L1418.5,1693.89 L1415.7,1696.73 L1413.1,1698.95 L1410.1,1701.04 L1406.5,1703.03 L1402.5,1704.76 L1397.9,1706.25 L1392.9,1707.39 L1386.9,1708.25 L1379.1,1708.83 L1366.5,1709.14 L927.5,1709.2 Z" fill="#000"/>
<path d="M927.5,1782.96 L927.5,1782.96 L1366.5,1782.9 L1379.1,1782.59 L1386.9,1782.01 L1392.9,1781.15 L1397.9,1780.01 L1402.5,1778.52 L1406.5,1776.79 L1410.1,1774.8 L1413.1,1772.71 L1415.7,1770.48 L1418.3,1767.81 L1420.5,1765.14 L1422.5,1762.3 L1424.3,1759.32 L1426.1,1755.92 L1427.7,1752.47 L1429.3,1748.59 L1430.9,1744.3 L1432.5,1739.6 L1434.3,1733.86 L1436.3,1727.02 L1438.9,1717.6 L1445.7,1692.21 L1448.5,1682.13 L1450.7,1674.56 L1452.5,1668.74 L1454.1,1663.96 L1455.5,1660.2 L1456.7,1657.37 L1457.9,1654.95 L1458.9,1653.38 L1459.5,1652.73 L1460.7,1651.95 L1461.9,1651.54 L1463.3,1651.5 L1464.5,1651.84 L1465.7,1652.56 L1466.3,1653.11 L1467.3,1654.63 L1468.3,1656.59 L1469.5,1659.39 L1470.7,1662.62 L1472.1,1666.86 L1473.7,1672.2 L1475.5,1678.69 L1477.7,1687.09 L1481.1,1700.67 L1485.7,1719.17 L1488.1,1728.44 L1490.1,1735.78 L1491.9,1741.97 L1493.7,1747.72 L1495.3,1752.41 L1496.9,1756.69 L1498.5,1760.54 L1500.1,1763.97 L1501.9,1767.34 L1503.5,1769.95 L1505.3,1772.47 L1507.3,1774.85 L1509.5,1777.03 L1511.5,1778.6 L1513.9,1780 L1516.7,1781.11 L1520.1,1781.95 L1524.7,1782.54 L1532.3,1782.87 L1577.3,1782.96 L2018.3,1782.96 L2018.3,1782.96 Z" fill="#FF0000"/>
<path d="M927.5,1780.86 L1366.5,1780.8 L1379.1,1780.49 L1386.9,1779.91 L1392.9,1779.05 L1397.9,1777.91 L1402.5,1776.42 L1406.5,1774.69 L1410.1,1772.7 L1413.1,1770.61 L1415.7,1768.38 L1417.9,1766.09 L1419.9,1763.6 L1421.7,1760.96 L1423.5,1757.88 L1425.1,1754.74 L1426.7,1751.18 L1428.3,1747.21 L1429.9,1742.81 L1431.5,1738.01 L1433.3,1732.17 L1435.3,1725.25 L1438.1,1715.02 L1444.1,1692.59 L1447.1,1681.77 L1449.3,1674.21 L1451.1,1668.38 L1452.7,1663.61 L1454.1,1659.85 L1455.3,1657.01 L1456.5,1654.6 L1457.5,1652.94 L1458.5,1651.62 L1459.7,1650.47 L1460.9,1649.75 L1462.3,1649.38 L1463.7,1649.48 L1464.9,1649.93 L1466.1,1650.79 L1467.3,1652.1 L1468.3,1653.58 L1469.3,1655.41 L1470.5,1658.05 L1471.7,1661.15 L1473.1,1665.25 L1474.5,1669.79 L1476.1,1675.39 L1478.1,1682.87 L1480.9,1693.87 L1486.9,1718.02 L1489.3,1727.33 L1491.3,1734.71 L1493.1,1740.95 L1494.9,1746.75 L1496.5,1751.49 L1498.1,1755.82 L1499.7,1759.73 L1501.3,1763.21 L1502.9,1766.27 L1504.5,1768.93 L1506.3,1771.47 L1508.1,1773.57 L1510.1,1775.44 L1512.3,1777.02 L1514.7,1778.27 L1517.5,1779.25 L1521.1,1780.02 L1526.1,1780.54 L1535.3,1780.81 L2018.3,1780.86 L2018.3,1785.06 L1541.1,1785.05 L1528.3,1784.85 L1522.5,1784.41 L1518.5,1783.71 L1515.5,1782.79 L1512.9,1781.57 L1510.7,1780.12 L1508.7,1778.39 L1506.3,1775.9 L1504.1,1773.22 L1502.1,1770.36 L1500.3,1767.37 L1498.5,1763.92 L1496.9,1760.44 L1495.3,1756.53 L1493.7,1752.2 L1492.1,1747.46 L1490.3,1741.66 L1488.3,1734.71 L1486.3,1727.33 L1483.9,1718.02 L1478.7,1697.08 L1475.7,1685.18 L1473.5,1676.85 L1471.9,1671.17 L1470.5,1666.58 L1469.1,1662.41 L1467.9,1659.25 L1466.7,1656.53 L1465.7,1654.68 L1464.9,1654.13 L1463.7,1653.68 L1462.3,1653.58 L1460.9,1653.95 L1459.7,1654.67 L1459.5,1654.99 L1458.5,1656.87 L1457.3,1659.57 L1455.9,1663.2 L1454.3,1667.86 L1452.5,1673.59 L1450.3,1681.08 L1447.7,1690.39 L1443.5,1706.02 L1439.5,1720.92 L1437.1,1729.47 L1435.1,1736.18 L1433.3,1741.76 L1431.7,1746.31 L1430.1,1750.45 L1428.5,1754.16 L1426.9,1757.46 L1425.1,1760.75 L1423.1,1763.91 L1420.9,1766.92 L1418.5,1769.75 L1415.7,1772.59 L1413.1,1774.81 L1410.1,1776.9 L1406.5,1778.89 L1402.5,1780.62 L1397.9,1782.11 L1392.9,1783.25 L1386.9,1784.11 L1379.1,1784.69 L1366.5,1785 L927.5,1785.06 Z" fill="#000"/>
<path d="M927.5,1858.82 L927.5,1858.82 L1307.5,1858.76 L1324.3,1858.41 L1342.1,1857.47 L1355.5,1856.84 L1368.7,1856.77 L1378.3,1856.66 L1384.1,1856.2 L1388.9,1855.38 L1393.1,1854.24 L1397.1,1852.71 L1400.9,1850.82 L1404.7,1848.47 L1408.3,1845.79 L1411.7,1842.79 L1414.9,1839.55 L1417.9,1836.08 L1420.5,1832.67 L1422.9,1829.13 L1425.1,1825.47 L1427.3,1821.36 L1429.3,1817.16 L1431.1,1812.97 L1432.9,1808.36 L1434.7,1803.35 L1436.7,1797.35 L1439.3,1789.04 L1447.7,1761.12 L1451.5,1748.85 L1453.7,1742.07 L1455.3,1737.49 L1456.7,1733.89 L1457.9,1731.2 L1458.9,1729.32 L1459.7,1728.14 L1460.7,1727.34 L1461.9,1726.79 L1463.1,1726.62 L1464.3,1726.81 L1465.5,1727.38 L1466.3,1728 L1467.1,1729.18 L1468.1,1731.11 L1469.1,1733.42 L1470.3,1736.62 L1471.7,1740.86 L1473.3,1746.17 L1475.7,1754.68 L1481.5,1775.73 L1485.1,1788.36 L1488.1,1798.48 L1490.7,1806.83 L1492.9,1813.5 L1495.1,1819.73 L1497.1,1824.97 L1499.1,1829.76 L1501.1,1834.08 L1503.1,1837.93 L1505.1,1841.36 L1507.3,1844.62 L1509.5,1847.42 L1511.9,1850.02 L1514.3,1852.19 L1516.7,1853.9 L1519.5,1855.41 L1522.7,1856.62 L1526.5,1857.55 L1531.5,1858.23 L1538.9,1858.65 L1557.1,1858.82 L2018.3,1858.82 L2018.3,1858.82 Z" fill="#FF0000"/>
<path d="M927.5,1856.72 L1307.5,1856.66 L1324.3,1856.31 L1342.1,1855.37 L1355.5,1854.74 L1368.7,1854.67 L1378.3,1854.56 L1384.1,1854.1 L1388.9,1853.28 L1393.1,1852.14 L1397.1,1850.61 L1400.9,1848.72 L1404.7,1846.37 L1408.3,1843.69 L1411.7,1840.69 L1414.7,1837.62 L1417.5,1834.32 L1420.1,1830.82 L1422.5,1827.14 L1424.7,1823.3 L1426.7,1819.38 L1428.5,1815.46 L1430.3,1811.12 L1432.1,1806.38 L1434.1,1800.65 L1436.3,1793.86 L1439.3,1784.06 L1445.9,1762.08 L1449.9,1749.13 L1452.3,1741.72 L1453.9,1737.14 L1455.3,1733.53 L1456.5,1730.85 L1457.5,1728.95 L1458.5,1727.4 L1459.5,1726.21 L1460.7,1725.24 L1461.9,1724.69 L1463.1,1724.52 L1464.3,1724.71 L1465.5,1725.28 L1466.5,1726.09 L1467.5,1727.26 L1468.5,1728.81 L1469.5,1730.75 L1470.5,1733.06 L1471.7,1736.27 L1473.1,1740.5 L1474.7,1745.81 L1477.1,1754.32 L1482.9,1775.37 L1486.5,1788.01 L1489.5,1798.12 L1492.1,1806.47 L1494.3,1813.14 L1496.5,1819.38 L1498.5,1824.62 L1500.5,1829.41 L1502.5,1833.73 L1504.5,1837.58 L1506.5,1840.96 L1508.5,1843.89 L1510.5,1846.39 L1512.7,1848.69 L1515.1,1850.71 L1517.7,1852.39 L1520.5,1853.74 L1523.9,1854.87 L1528.1,1855.72 L1533.7,1856.31 L1542.9,1856.64 L1606.5,1856.72 L2018.3,1856.72 L2018.3,1860.92 L1548.7,1860.89 L1536.3,1860.65 L1529.9,1860.16 L1525.3,1859.41 L1521.7,1858.39 L1518.7,1857.13 L1516.1,1855.61 L1513.7,1853.79 L1510.9,1851.12 L1508.3,1848.2 L1505.9,1845.07 L1503.7,1841.75 L1501.7,1838.31 L1499.7,1834.44 L1497.7,1830.11 L1495.7,1825.33 L1493.7,1820.09 L1491.5,1813.85 L1489.3,1807.18 L1486.7,1798.83 L1483.7,1788.72 L1480.1,1776.09 L1473.1,1750.72 L1471.1,1743.81 L1469.7,1739.34 L1468.5,1735.86 L1467.3,1732.81 L1466.3,1730.64 L1465.7,1729.61 L1465.1,1729.24 L1463.9,1728.81 L1462.7,1728.74 L1461.5,1729.03 L1460.3,1729.72 L1459.5,1731.15 L1458.3,1733.77 L1456.9,1737.31 L1455.3,1741.83 L1453.1,1748.58 L1449.3,1760.82 L1443.9,1778.75 L1439.9,1792 L1437.5,1799.55 L1435.5,1805.42 L1433.7,1810.3 L1431.9,1814.77 L1430.1,1818.83 L1428.1,1822.89 L1426.1,1826.55 L1423.7,1830.47 L1421.1,1834.23 L1418.3,1837.83 L1415.1,1841.47 L1411.7,1844.9 L1408.3,1847.89 L1404.7,1850.57 L1400.9,1852.92 L1397.1,1854.81 L1393.1,1856.34 L1388.9,1857.48 L1384.1,1858.3 L1378.3,1858.76 L1368.7,1858.87 L1355.5,1858.94 L1342.1,1859.57 L1324.3,1860.51 L1307.5,1860.86 L927.5,1860.92 Z" fill="#000"/>
<path d="M927.5,1934.68 L927.5,1934.68 L1307.5,1934.62 L1324.3,1934.27 L1342.1,1933.33 L1355.5,1932.7 L1368.9,1932.63 L1378.3,1932.52 L1384.1,1932.05 L1388.9,1931.23 L1393.1,1930.08 L1397.1,1928.54 L1400.9,1926.65 L1404.7,1924.29 L1408.3,1921.6 L1411.7,1918.59 L1414.9,1915.33 L1417.9,1911.86 L1420.5,1908.44 L1422.9,1904.88 L1425.1,1901.2 L1427.1,1897.48 L1429.1,1893.31 L1430.9,1889.15 L1432.7,1884.57 L1434.5,1879.58 L1436.5,1873.6 L1438.9,1865.95 L1447.9,1835.96 L1451.7,1823.66 L1453.9,1816.9 L1455.5,1812.35 L1456.9,1808.8 L1458.1,1806.17 L1459.1,1804.37 L1459.7,1803.51 L1460.7,1802.7 L1461.9,1802.15 L1463.1,1801.98 L1464.3,1802.17 L1465.5,1802.74 L1466.3,1803.37 L1467.1,1804.55 L1468.1,1806.49 L1469.1,1808.81 L1470.3,1812.02 L1471.7,1816.27 L1473.3,1821.6 L1475.7,1830.15 L1481.5,1851.28 L1485.1,1863.96 L1488.1,1874.11 L1490.7,1882.49 L1492.9,1889.19 L1495.1,1895.45 L1497.1,1900.7 L1499.1,1905.51 L1501.1,1909.85 L1503.1,1913.72 L1505.1,1917.15 L1507.3,1920.43 L1509.5,1923.24 L1511.9,1925.84 L1514.3,1928.02 L1516.7,1929.74 L1519.3,1931.16 L1522.3,1932.35 L1525.9,1933.29 L1530.7,1934.01 L1537.7,1934.47 L1552.7,1934.67 L2018.3,1934.68 L2018.3,1934.68 Z" fill="#FF0000"/>
<path d="M927.5,1932.58 L1307.5,1932.52 L1324.3,1932.17 L1342.1,1931.23 L1355.5,1930.6 L1368.9,1930.53 L1378.3,1930.42 L1384.1,1929.95 L1388.9,1929.13 L1393.1,1927.98 L1397.1,1926.44 L1400.9,1924.55 L1404.7,1922.19 L1408.3,1919.5 L1411.5,1916.68 L1414.5,1913.62 L1417.3,1910.35 L1419.9,1906.87 L1422.3,1903.21 L1424.5,1899.4 L1426.5,1895.51 L1428.3,1891.61 L1430.1,1887.31 L1431.9,1882.59 L1433.9,1876.88 L1436.1,1870.11 L1438.9,1860.97 L1446.1,1836.92 L1450.1,1823.94 L1452.3,1817.14 L1453.9,1812.54 L1455.3,1808.92 L1456.5,1806.22 L1457.5,1804.32 L1458.5,1802.77 L1459.5,1801.58 L1460.7,1800.6 L1461.9,1800.05 L1463.1,1799.88 L1464.3,1800.07 L1465.5,1800.64 L1466.5,1801.45 L1467.5,1802.62 L1468.5,1804.18 L1469.5,1806.13 L1470.5,1808.45 L1471.7,1811.67 L1473.1,1815.92 L1474.7,1821.25 L1477.1,1829.79 L1482.9,1850.92 L1486.5,1863.6 L1489.5,1873.76 L1492.1,1882.14 L1494.3,1888.83 L1496.5,1895.09 L1498.5,1900.35 L1500.5,1905.16 L1502.5,1909.5 L1504.5,1913.36 L1506.5,1916.76 L1508.5,1919.7 L1510.5,1922.21 L1512.7,1924.52 L1515.1,1926.54 L1517.7,1928.24 L1520.5,1929.59 L1523.9,1930.72 L1528.1,1931.58 L1533.7,1932.17 L1542.9,1932.5 L1605.7,1932.58 L2018.3,1932.58 L2018.3,1936.78 L1548.7,1936.75 L1536.3,1936.51 L1529.9,1936.02 L1525.3,1935.26 L1521.7,1934.24 L1518.7,1932.97 L1516.1,1931.45 L1513.7,1929.62 L1511.1,1927.15 L1508.5,1924.26 L1506.1,1921.15 L1503.9,1917.87 L1501.9,1914.46 L1499.7,1910.21 L1497.7,1905.87 L1495.7,1901.06 L1493.7,1895.8 L1491.5,1889.54 L1489.3,1882.85 L1486.7,1874.47 L1483.7,1864.31 L1480.1,1851.64 L1472.9,1825.46 L1471.1,1819.24 L1469.7,1814.75 L1468.5,1811.26 L1467.3,1808.19 L1466.3,1806.02 L1465.7,1804.97 L1465.1,1804.6 L1463.9,1804.17 L1462.7,1804.1 L1461.5,1804.39 L1460.3,1805.09 L1459.5,1806.53 L1458.3,1809.15 L1456.9,1812.71 L1455.3,1817.25 L1453.1,1824.02 L1449.3,1836.31 L1443.9,1854.31 L1439.9,1867.61 L1437.5,1875.18 L1435.5,1881.08 L1433.7,1885.97 L1431.9,1890.46 L1430.1,1894.54 L1428.1,1898.61 L1426.1,1902.29 L1423.7,1906.22 L1421.1,1909.99 L1418.3,1913.61 L1415.1,1917.26 L1411.7,1920.69 L1408.3,1923.7 L1404.7,1926.39 L1400.9,1928.75 L1397.1,1930.64 L1393.1,1932.18 L1388.9,1933.33 L1384.1,1934.15 L1378.3,1934.62 L1368.9,1934.73 L1355.5,1934.8 L1342.1,1935.43 L1324.3,1936.37 L1307.5,1936.72 L927.5,1936.78 Z" fill="#000"/></g>
<path d="M876.75,46.1 V1979.4 H2069.75 V46.1" fill="none" stroke="#2E2E2E" stroke-width="2.7" stroke-linejoin="miter"/>
<line x1="875.45" x2="2071.05" y1="47.3" y2="47.3" stroke="#6E6E6E" stroke-width="2.4"/>
<g stroke="#333333" stroke-width="3.5"><line x1="864.55" x2="876.75" y1="189.9" y2="189.9"/><line x1="864.55" x2="876.75" y1="265.76" y2="265.76"/><line x1="864.55" x2="876.75" y1="341.62" y2="341.62"/><line x1="864.55" x2="876.75" y1="417.48" y2="417.48"/><line x1="864.55" x2="876.75" y1="493.34" y2="493.34"/><line x1="864.55" x2="876.75" y1="569.2" y2="569.2"/><line x1="864.55" x2="876.75" y1="645.06" y2="645.06"/><line x1="864.55" x2="876.75" y1="720.92" y2="720.92"/><line x1="864.55" x2="876.75" y1="796.78" y2="796.78"/><line x1="864.55" x2="876.75" y1="872.64" y2="872.64"/><line x1="864.55" x2="876.75" y1="948.5" y2="948.5"/><line x1="864.55" x2="876.75" y1="1024.36" y2="1024.36"/><line x1="864.55" x2="876.75" y1="1100.22" y2="1100.22"/><line x1="864.55" x2="876.75" y1="1176.08" y2="1176.08"/><line x1="864.55" x2="876.75" y1="1251.94" y2="1251.94"/><line x1="864.55" x2="876.75" y1="1327.8" y2="1327.8"/><line x1="864.55" x2="876.75" y1="1403.66" y2="1403.66"/><line x1="864.55" x2="876.75" y1="1479.52" y2="1479.52"/><line x1="864.55" x2="876.75" y1="1555.38" y2="1555.38"/><line x1="864.55" x2="876.75" y1="1631.24" y2="1631.24"/><line x1="864.55" x2="876.75" y1="1707.1" y2="1707.1"/><line x1="864.55" x2="876.75" y1="1782.96" y2="1782.96"/><line x1="864.55" x2="876.75" y1="1858.82" y2="1858.82"/><line x1="864.55" x2="876.75" y1="1934.68" y2="1934.68"/><line x1="924.9" x2="924.9" y1="1979.4" y2="1991.6"/><line x1="1116" x2="1116" y1="1979.4" y2="1991.6"/><line x1="1307.1" x2="1307.1" y1="1979.4" y2="1991.6"/><line x1="1498.2" x2="1498.2" y1="1979.4" y2="1991.6"/><line x1="1689.3" x2="1689.3" y1="1979.4" y2="1991.6"/><line x1="1880.4" x2="1880.4" y1="1979.4" y2="1991.6"/></g>
<text class="yl" x="854.5" y="210.2">vacuolar membrane</text>
<text class="yl" x="854.5" y="286.06">vacuolar part</text>
<text class="yl" x="854.5" y="361.92">vacuole</text>
<text class="yl" x="854.5" y="437.78">nucleolus</text>
<text class="yl" x="854.5" y="513.64">extracellular region</text>
<text class="yl" x="854.5" y="589.5">bounding membrane of organelle</text>
<text class="yl" x="854.5" y="665.36">thylakoid</text>
<text class="yl" x="854.5" y="741.22">nucleoplasm part</text>
<text class="yl" x="854.5" y="817.08">ATPase complex</text>
<text class="yl" x="854.5" y="892.94">nuclear chromatin</text>
<text class="yl" x="854.5" y="968.8">chloroplast part</text>
<text class="yl" x="854.5" y="1044.66">plastid part</text>
<text class="yl" x="854.5" y="1120.52">nucleoplasm</text>
<text class="yl" x="854.5" y="1196.38">photosystem II</text>
<text class="yl" x="854.5" y="1272.24">mediator complex</text>
<text class="yl" x="854.5" y="1348.1">photosystem</text>
<text class="yl" x="854.5" y="1423.96">photosystem I</text>
<text class="yl" x="854.5" y="1499.82">thylakoid membrane</text>
<text class="yl" x="854.5" y="1575.68">photosynthetic membrane</text>
<text class="yl" x="854.5" y="1651.54">thylakoid part</text>
<text class="yl" x="854.5" y="1727.4">plastid thylakoid membrane</text>
<text class="yl" x="854.5" y="1803.26">chloroplast thylakoid membrane</text>
<text class="yl" x="854.5" y="1879.12">plastid thylakoid</text>
<text class="yl" x="854.5" y="1954.98">chloroplast thylakoid</text>
<text class="xl" x="924.2" y="2041.1">-30</text>
<text class="xl" x="1115.3" y="2041.1">-20</text>
<text class="xl" x="1306.4" y="2041.1">-10</text>
<text class="xl" x="1497.5" y="2041.1">0</text>
<text class="xl" x="1688.6" y="2041.1">10</text>
<text class="xl" x="1879.7" y="2041.1">20</text>
<text class="lt" x="2136.5" y="842.8">p.adjust</text>
<rect x="2136.5" y="871.4" width="71.2" height="352" fill="url(#g)"/>
<path d="M2136.5,993.4 h14 M2207.7,993.4 h-14" stroke="#FFFFFF" stroke-width="1.5" fill="none"/>
<text class="ll" x="2229.8" y="1007.1">0.03</text>
<path d="M2136.5,1117.1 h14 M2207.7,1117.1 h-14" stroke="#FFFFFF" stroke-width="1.5" fill="none"/>
<text class="ll" x="2229.8" y="1130.8">0.04</text>
</svg></body></html>
